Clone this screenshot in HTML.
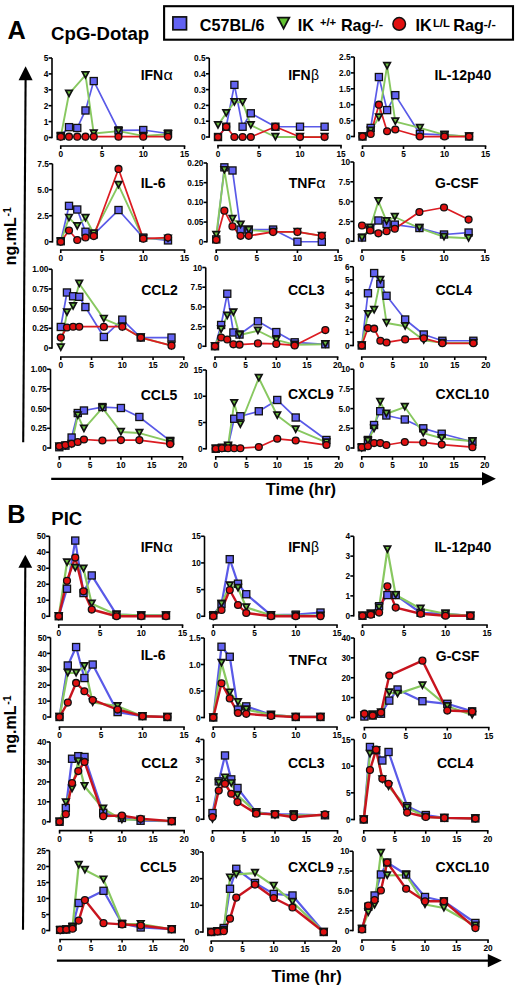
<!DOCTYPE html>
<html><head><meta charset="utf-8"><title>Figure</title>
<style>
html,body{margin:0;padding:0;background:#fff;}
body{width:520px;height:990px;overflow:hidden;}
svg{display:block;}
text{font-family:"Liberation Sans",sans-serif;font-weight:bold;fill:#000;}
.tk{font-size:8.3px;}
.ti{font-size:14px;}
.tg{font-size:14px;font-weight:normal;}
.pl{font-size:25.3px;}
.pt{font-size:18.6px;}
.lg{font-size:16.2px;}
.ls{font-size:10.5px;}
.ls2{font-size:11.3px;}
.yl{font-size:16px;}
.sup{font-size:10.5px;}
.tt{font-size:16.5px;}
</style></head>
<body><svg width="520" height="990" viewBox="0 0 520 990">
<rect width="520" height="990" fill="#fff"/>
<text class="pl" x="7.5" y="39.3">A</text>
<text class="pt" x="51.1" y="39.6">CpG-Dotap</text>
<text class="pl" x="7.3" y="523">B</text>
<text class="pt" x="51.3" y="525.2">PIC</text>
<rect x="164.1" y="6.2" width="348.9" height="33.5" fill="#fff" stroke="#000" stroke-width="2.1"/>
<rect x="172.9" y="16.9" width="13.6" height="12.9" fill="#6262f2" stroke="#111" stroke-width="1.7"/>
<text class="lg" x="199.8" y="31.1">C57BL/6</text>
<path d="M277.9 17.6L289.3 17.6L283.6 28.6Z" fill="#62c232" stroke="#111" stroke-width="1.8" stroke-linejoin="miter"/>
<text class="lg" x="297.8" y="31.1">IK</text>
<text class="ls" x="319.9" y="26.3" textLength="16.3" lengthAdjust="spacingAndGlyphs">+/+</text>
<text class="lg" x="340.9" y="31.1">Rag</text>
<text class="ls" x="370.8" y="27.6" textLength="12.4" lengthAdjust="spacingAndGlyphs">-/-</text>
<circle cx="399.2" cy="23.9" r="6.3" fill="#e01010" stroke="#111" stroke-width="1.5"/>
<text class="lg" x="415.5" y="31.1">IK</text>
<text class="ls2" x="432.9" y="26.6">L/L</text>
<text class="lg" x="453.2" y="31.3">Rag</text>
<text class="ls" x="483.4" y="27.8" textLength="12.4" lengthAdjust="spacingAndGlyphs">-/-</text>
<path d="M25.60 79.20L23.20 442.30" stroke="#000" stroke-width="2.1" fill="none"/><path d="M25.60 66.30L32.65 80.20L18.55 80.20Z" fill="#000"/>
<text class="yl" transform="translate(16.40 265.20) rotate(-90)">ng.mL<tspan class="sup" dx="0.8" dy="-5.6">-1</tspan></text>
<path d="M25.30 566.80L23.00 929.70" stroke="#000" stroke-width="2.1" fill="none"/><path d="M25.30 554.70L32.20 567.80L18.40 567.80Z" fill="#000"/>
<text class="yl" transform="translate(16.20 753.50) rotate(-90)">ng.mL<tspan class="sup" dx="0.8" dy="-5.6">-1</tspan></text>
<path d="M51.20 478.80H483.00" stroke="#000" stroke-width="2.2" fill="none"/><path d="M495.90 478.80L482.00 472.10L482.00 485.50Z" fill="#000"/>
<text class="tt" x="265.8" y="495.4">Time (hr)</text>
<path d="M56.90 960.60H488.80" stroke="#000" stroke-width="2.2" fill="none"/><path d="M501.90 960.60L487.80 953.90L487.80 967.30Z" fill="#000"/>
<text class="tt" x="271.4" y="981.9">Time (hr)</text>
<g stroke="#000" stroke-width="1.6" fill="none"><path d="M52.00 58.00V138.30" /><path d="M48.60 137.50H52.00" /><path d="M48.60 121.60H52.00" /><path d="M48.60 105.70H52.00" /><path d="M48.60 89.80H52.00" /><path d="M48.60 73.90H52.00" /><path d="M48.60 58.00H52.00" /><path d="M59.95 146.00H185.30" /><path d="M60.75 146.00V149.00" /><path d="M102.00 146.00V149.00" /><path d="M143.25 146.00V149.00" /><path d="M184.50 146.00V149.00" /></g>
<g class="tk"><text x="48.40" y="140.60" text-anchor="end">0</text><text x="48.40" y="124.70" text-anchor="end">1</text><text x="48.40" y="108.80" text-anchor="end">2</text><text x="48.40" y="92.90" text-anchor="end">3</text><text x="48.40" y="77.00" text-anchor="end">4</text><text x="48.40" y="61.10" text-anchor="end">5</text><text x="60.75" y="157.20" text-anchor="middle">0</text><text x="102.00" y="157.20" text-anchor="middle">5</text><text x="143.25" y="157.20" text-anchor="middle">10</text><text x="184.50" y="157.20" text-anchor="middle">15</text></g>
<text class="ti" x="140.65" y="79.70">IFN</text>
<text class="tg" transform="translate(163.50 79.70) scale(1.15 1)">&#945;</text>
<path d="M60.75 135.91 L69.00 127.16 L77.25 127.96 L85.50 110.47 L93.75 81.06 L118.50 130.34 L143.25 130.03 L168.00 133.53" fill="none" stroke="#5a5ae8" stroke-width="1.7" stroke-linejoin="round"/>
<path d="M60.75 136.71 L69.00 93.78 L85.50 75.17 L93.75 133.53 L118.50 131.14 L143.25 135.91 L168.00 134.32" fill="none" stroke="#88c860" stroke-width="1.9" stroke-linejoin="round"/>
<path d="M60.75 136.71 L69.00 136.71 L77.25 136.71 L85.50 136.71 L93.75 136.71 L118.50 136.71 L143.25 136.71 L168.00 136.71" fill="none" stroke="#dc1c22" stroke-width="1.75" stroke-linejoin="round"/>
<rect x="57.20" y="132.36" width="7.10" height="7.10" fill="#6262f2" stroke="#111" stroke-width="1.3"/>
<rect x="65.45" y="123.61" width="7.10" height="7.10" fill="#6262f2" stroke="#111" stroke-width="1.3"/>
<rect x="73.70" y="124.41" width="7.10" height="7.10" fill="#6262f2" stroke="#111" stroke-width="1.3"/>
<rect x="81.95" y="106.92" width="7.10" height="7.10" fill="#6262f2" stroke="#111" stroke-width="1.3"/>
<rect x="90.20" y="77.51" width="7.10" height="7.10" fill="#6262f2" stroke="#111" stroke-width="1.3"/>
<rect x="114.95" y="126.80" width="7.10" height="7.10" fill="#6262f2" stroke="#111" stroke-width="1.3"/>
<rect x="139.70" y="126.48" width="7.10" height="7.10" fill="#6262f2" stroke="#111" stroke-width="1.3"/>
<rect x="164.45" y="129.98" width="7.10" height="7.10" fill="#6262f2" stroke="#111" stroke-width="1.3"/>
<path d="M57.49 133.36L64.01 133.36L60.75 139.41Z" fill="#6cbf42" stroke="#111" stroke-width="1.7" stroke-linejoin="miter"/>
<path d="M65.74 90.43L72.26 90.43L69.00 96.48Z" fill="#6cbf42" stroke="#111" stroke-width="1.7" stroke-linejoin="miter"/>
<path d="M82.24 71.82L88.76 71.82L85.50 77.87Z" fill="#6cbf42" stroke="#111" stroke-width="1.7" stroke-linejoin="miter"/>
<path d="M90.49 130.18L97.01 130.18L93.75 136.22Z" fill="#6cbf42" stroke="#111" stroke-width="1.7" stroke-linejoin="miter"/>
<path d="M115.24 127.79L121.76 127.79L118.50 133.84Z" fill="#6cbf42" stroke="#111" stroke-width="1.7" stroke-linejoin="miter"/>
<path d="M139.99 132.56L146.51 132.56L143.25 138.61Z" fill="#6cbf42" stroke="#111" stroke-width="1.7" stroke-linejoin="miter"/>
<path d="M164.74 130.97L171.26 130.97L168.00 137.02Z" fill="#6cbf42" stroke="#111" stroke-width="1.7" stroke-linejoin="miter"/>
<circle cx="60.75" cy="136.71" r="3.45" fill="#e01010" stroke="#111" stroke-width="1.3"/>
<circle cx="69.00" cy="136.71" r="3.45" fill="#e01010" stroke="#111" stroke-width="1.3"/>
<circle cx="77.25" cy="136.71" r="3.45" fill="#e01010" stroke="#111" stroke-width="1.3"/>
<circle cx="85.50" cy="136.71" r="3.45" fill="#e01010" stroke="#111" stroke-width="1.3"/>
<circle cx="93.75" cy="136.71" r="3.45" fill="#e01010" stroke="#111" stroke-width="1.3"/>
<circle cx="118.50" cy="136.71" r="3.45" fill="#e01010" stroke="#111" stroke-width="1.3"/>
<circle cx="143.25" cy="136.71" r="3.45" fill="#e01010" stroke="#111" stroke-width="1.3"/>
<circle cx="168.00" cy="136.71" r="3.45" fill="#e01010" stroke="#111" stroke-width="1.3"/>
<g stroke="#000" stroke-width="1.6" fill="none"><path d="M209.25 58.00V137.80" /><path d="M205.85 137.00H209.25" /><path d="M205.85 121.20H209.25" /><path d="M205.85 105.40H209.25" /><path d="M205.85 89.60H209.25" /><path d="M205.85 73.80H209.25" /><path d="M205.85 58.00H209.25" /><path d="M217.20 145.60H341.80" /><path d="M218.00 145.60V148.60" /><path d="M259.00 145.60V148.60" /><path d="M300.00 145.60V148.60" /><path d="M341.00 145.60V148.60" /></g>
<g class="tk"><text x="205.65" y="140.10" text-anchor="end">0</text><text x="205.65" y="124.30" text-anchor="end">0.1</text><text x="205.65" y="108.50" text-anchor="end">0.2</text><text x="205.65" y="92.70" text-anchor="end">0.3</text><text x="205.65" y="76.90" text-anchor="end">0.4</text><text x="205.65" y="61.10" text-anchor="end">0.5</text><text x="218.00" y="156.80" text-anchor="middle">0</text><text x="259.00" y="156.80" text-anchor="middle">5</text><text x="300.00" y="156.80" text-anchor="middle">10</text><text x="341.00" y="156.80" text-anchor="middle">15</text></g>
<text class="ti" x="288.15" y="79.70">IFN</text>
<text class="tg" x="311.00" y="79.70">&#946;</text>
<path d="M218.00 137.00 L226.20 126.73 L234.40 84.86 L242.60 126.73 L250.80 113.30 L275.40 126.73 L300.00 126.73 L324.60 126.73" fill="none" stroke="#5a5ae8" stroke-width="1.7" stroke-linejoin="round"/>
<path d="M218.00 125.15 L226.20 113.30 L234.40 102.24 L242.60 102.24 L250.80 125.15 L275.40 137.00 L300.00 137.00 L324.60 137.00" fill="none" stroke="#88c860" stroke-width="1.9" stroke-linejoin="round"/>
<path d="M218.00 137.00 L226.20 126.73 L234.40 137.00 L242.60 137.00 L250.80 137.00 L275.40 126.73 L300.00 137.00 L324.60 137.00" fill="none" stroke="#dc1c22" stroke-width="1.75" stroke-linejoin="round"/>
<rect x="214.45" y="133.45" width="7.10" height="7.10" fill="#6262f2" stroke="#111" stroke-width="1.3"/>
<rect x="222.65" y="123.18" width="7.10" height="7.10" fill="#6262f2" stroke="#111" stroke-width="1.3"/>
<rect x="230.85" y="81.31" width="7.10" height="7.10" fill="#6262f2" stroke="#111" stroke-width="1.3"/>
<rect x="239.05" y="123.18" width="7.10" height="7.10" fill="#6262f2" stroke="#111" stroke-width="1.3"/>
<rect x="247.25" y="109.75" width="7.10" height="7.10" fill="#6262f2" stroke="#111" stroke-width="1.3"/>
<rect x="271.85" y="123.18" width="7.10" height="7.10" fill="#6262f2" stroke="#111" stroke-width="1.3"/>
<rect x="296.45" y="123.18" width="7.10" height="7.10" fill="#6262f2" stroke="#111" stroke-width="1.3"/>
<rect x="321.05" y="123.18" width="7.10" height="7.10" fill="#6262f2" stroke="#111" stroke-width="1.3"/>
<path d="M214.74 121.80L221.26 121.80L218.00 127.85Z" fill="#6cbf42" stroke="#111" stroke-width="1.7" stroke-linejoin="miter"/>
<path d="M222.94 109.95L229.46 109.95L226.20 116.00Z" fill="#6cbf42" stroke="#111" stroke-width="1.7" stroke-linejoin="miter"/>
<path d="M231.14 98.89L237.66 98.89L234.40 104.94Z" fill="#6cbf42" stroke="#111" stroke-width="1.7" stroke-linejoin="miter"/>
<path d="M239.34 98.89L245.86 98.89L242.60 104.94Z" fill="#6cbf42" stroke="#111" stroke-width="1.7" stroke-linejoin="miter"/>
<path d="M247.54 121.80L254.06 121.80L250.80 127.85Z" fill="#6cbf42" stroke="#111" stroke-width="1.7" stroke-linejoin="miter"/>
<path d="M272.14 133.65L278.66 133.65L275.40 139.70Z" fill="#6cbf42" stroke="#111" stroke-width="1.7" stroke-linejoin="miter"/>
<path d="M296.74 133.65L303.26 133.65L300.00 139.70Z" fill="#6cbf42" stroke="#111" stroke-width="1.7" stroke-linejoin="miter"/>
<path d="M321.34 133.65L327.86 133.65L324.60 139.70Z" fill="#6cbf42" stroke="#111" stroke-width="1.7" stroke-linejoin="miter"/>
<circle cx="218.00" cy="137.00" r="3.45" fill="#e01010" stroke="#111" stroke-width="1.3"/>
<circle cx="226.20" cy="126.73" r="3.45" fill="#e01010" stroke="#111" stroke-width="1.3"/>
<circle cx="234.40" cy="137.00" r="3.45" fill="#e01010" stroke="#111" stroke-width="1.3"/>
<circle cx="242.60" cy="137.00" r="3.45" fill="#e01010" stroke="#111" stroke-width="1.3"/>
<circle cx="250.80" cy="137.00" r="3.45" fill="#e01010" stroke="#111" stroke-width="1.3"/>
<circle cx="275.40" cy="126.73" r="3.45" fill="#e01010" stroke="#111" stroke-width="1.3"/>
<circle cx="300.00" cy="137.00" r="3.45" fill="#e01010" stroke="#111" stroke-width="1.3"/>
<circle cx="324.60" cy="137.00" r="3.45" fill="#e01010" stroke="#111" stroke-width="1.3"/>
<g stroke="#000" stroke-width="1.6" fill="none"><path d="M354.25 57.00V137.30" /><path d="M350.85 136.50H354.25" /><path d="M350.85 120.60H354.25" /><path d="M350.85 104.70H354.25" /><path d="M350.85 88.80H354.25" /><path d="M350.85 72.90H354.25" /><path d="M350.85 57.00H354.25" /><path d="M361.70 146.00H486.30" /><path d="M362.50 146.00V149.00" /><path d="M403.50 146.00V149.00" /><path d="M444.50 146.00V149.00" /><path d="M485.50 146.00V149.00" /></g>
<g class="tk"><text x="350.65" y="139.60" text-anchor="end">0</text><text x="350.65" y="123.70" text-anchor="end">0.5</text><text x="350.65" y="107.80" text-anchor="end">1.0</text><text x="350.65" y="91.90" text-anchor="end">1.5</text><text x="350.65" y="76.00" text-anchor="end">2.0</text><text x="350.65" y="60.10" text-anchor="end">2.5</text><text x="362.50" y="157.20" text-anchor="middle">0</text><text x="403.50" y="157.20" text-anchor="middle">5</text><text x="444.50" y="157.20" text-anchor="middle">10</text><text x="485.50" y="157.20" text-anchor="middle">15</text></g>
<text class="ti" x="434.40" y="79.70">IL-12p40</text>
<path d="M362.50 136.50 L370.70 127.91 L378.90 77.03 L387.10 110.11 L395.30 95.16 L419.90 133.96 L444.50 134.91 L469.10 136.50" fill="none" stroke="#5a5ae8" stroke-width="1.7" stroke-linejoin="round"/>
<path d="M362.50 136.50 L370.70 130.78 L378.90 117.42 L387.10 65.90 L395.30 121.55 L419.90 127.91 L444.50 134.91 L469.10 136.50" fill="none" stroke="#88c860" stroke-width="1.9" stroke-linejoin="round"/>
<path d="M362.50 136.50 L370.70 133.96 L378.90 104.70 L387.10 131.25 L395.30 129.50 L419.90 136.50 L444.50 136.50 L469.10 136.50" fill="none" stroke="#dc1c22" stroke-width="1.75" stroke-linejoin="round"/>
<rect x="358.95" y="132.95" width="7.10" height="7.10" fill="#6262f2" stroke="#111" stroke-width="1.3"/>
<rect x="367.15" y="124.36" width="7.10" height="7.10" fill="#6262f2" stroke="#111" stroke-width="1.3"/>
<rect x="375.35" y="73.48" width="7.10" height="7.10" fill="#6262f2" stroke="#111" stroke-width="1.3"/>
<rect x="383.55" y="106.56" width="7.10" height="7.10" fill="#6262f2" stroke="#111" stroke-width="1.3"/>
<rect x="391.75" y="91.61" width="7.10" height="7.10" fill="#6262f2" stroke="#111" stroke-width="1.3"/>
<rect x="416.35" y="130.41" width="7.10" height="7.10" fill="#6262f2" stroke="#111" stroke-width="1.3"/>
<rect x="440.95" y="131.36" width="7.10" height="7.10" fill="#6262f2" stroke="#111" stroke-width="1.3"/>
<rect x="465.55" y="132.95" width="7.10" height="7.10" fill="#6262f2" stroke="#111" stroke-width="1.3"/>
<path d="M359.24 133.15L365.76 133.15L362.50 139.20Z" fill="#6cbf42" stroke="#111" stroke-width="1.7" stroke-linejoin="miter"/>
<path d="M367.44 127.43L373.96 127.43L370.70 133.48Z" fill="#6cbf42" stroke="#111" stroke-width="1.7" stroke-linejoin="miter"/>
<path d="M375.64 114.07L382.16 114.07L378.90 120.12Z" fill="#6cbf42" stroke="#111" stroke-width="1.7" stroke-linejoin="miter"/>
<path d="M383.84 62.55L390.36 62.55L387.10 68.60Z" fill="#6cbf42" stroke="#111" stroke-width="1.7" stroke-linejoin="miter"/>
<path d="M392.04 118.20L398.56 118.20L395.30 124.25Z" fill="#6cbf42" stroke="#111" stroke-width="1.7" stroke-linejoin="miter"/>
<path d="M416.64 124.56L423.16 124.56L419.90 130.61Z" fill="#6cbf42" stroke="#111" stroke-width="1.7" stroke-linejoin="miter"/>
<path d="M441.24 131.56L447.76 131.56L444.50 137.61Z" fill="#6cbf42" stroke="#111" stroke-width="1.7" stroke-linejoin="miter"/>
<path d="M465.84 133.15L472.36 133.15L469.10 139.20Z" fill="#6cbf42" stroke="#111" stroke-width="1.7" stroke-linejoin="miter"/>
<circle cx="362.50" cy="136.50" r="3.45" fill="#e01010" stroke="#111" stroke-width="1.3"/>
<circle cx="370.70" cy="133.96" r="3.45" fill="#e01010" stroke="#111" stroke-width="1.3"/>
<circle cx="378.90" cy="104.70" r="3.45" fill="#e01010" stroke="#111" stroke-width="1.3"/>
<circle cx="387.10" cy="131.25" r="3.45" fill="#e01010" stroke="#111" stroke-width="1.3"/>
<circle cx="395.30" cy="129.50" r="3.45" fill="#e01010" stroke="#111" stroke-width="1.3"/>
<circle cx="419.90" cy="136.50" r="3.45" fill="#e01010" stroke="#111" stroke-width="1.3"/>
<circle cx="444.50" cy="136.50" r="3.45" fill="#e01010" stroke="#111" stroke-width="1.3"/>
<circle cx="469.10" cy="136.50" r="3.45" fill="#e01010" stroke="#111" stroke-width="1.3"/>
<g stroke="#000" stroke-width="1.6" fill="none"><path d="M52.50 163.75V242.55" /><path d="M49.10 241.75H52.50" /><path d="M49.10 215.75H52.50" /><path d="M49.10 189.75H52.50" /><path d="M49.10 163.75H52.50" /><path d="M59.95 250.00H185.30" /><path d="M60.75 250.00V253.00" /><path d="M102.00 250.00V253.00" /><path d="M143.25 250.00V253.00" /><path d="M184.50 250.00V253.00" /></g>
<g class="tk"><text x="48.90" y="244.85" text-anchor="end">0</text><text x="48.90" y="218.85" text-anchor="end">2.5</text><text x="48.90" y="192.85" text-anchor="end">5.0</text><text x="48.90" y="166.85" text-anchor="end">7.5</text><text x="60.75" y="261.20" text-anchor="middle">0</text><text x="102.00" y="261.20" text-anchor="middle">5</text><text x="143.25" y="261.20" text-anchor="middle">10</text><text x="184.50" y="261.20" text-anchor="middle">15</text></g>
<text class="ti" x="140.65" y="187.70">IL-6</text>
<path d="M60.75 241.23 L69.00 205.87 L77.25 209.51 L85.50 231.77 L93.75 234.47 L118.50 210.03 L143.25 237.59 L168.00 240.40" fill="none" stroke="#5a5ae8" stroke-width="1.7" stroke-linejoin="round"/>
<path d="M60.75 241.75 L69.00 217.83 L77.25 226.15 L85.50 218.04 L93.75 233.43 L118.50 185.07 L143.25 238.63 L168.00 238.63" fill="none" stroke="#88c860" stroke-width="1.9" stroke-linejoin="round"/>
<path d="M60.75 241.75 L69.00 230.52 L77.25 239.98 L85.50 237.49 L93.75 236.03 L118.50 168.95 L143.25 238.63 L168.00 237.59" fill="none" stroke="#dc1c22" stroke-width="1.75" stroke-linejoin="round"/>
<rect x="57.20" y="237.68" width="7.10" height="7.10" fill="#6262f2" stroke="#111" stroke-width="1.3"/>
<rect x="65.45" y="202.32" width="7.10" height="7.10" fill="#6262f2" stroke="#111" stroke-width="1.3"/>
<rect x="73.70" y="205.96" width="7.10" height="7.10" fill="#6262f2" stroke="#111" stroke-width="1.3"/>
<rect x="81.95" y="228.22" width="7.10" height="7.10" fill="#6262f2" stroke="#111" stroke-width="1.3"/>
<rect x="90.20" y="230.92" width="7.10" height="7.10" fill="#6262f2" stroke="#111" stroke-width="1.3"/>
<rect x="114.95" y="206.48" width="7.10" height="7.10" fill="#6262f2" stroke="#111" stroke-width="1.3"/>
<rect x="139.70" y="234.04" width="7.10" height="7.10" fill="#6262f2" stroke="#111" stroke-width="1.3"/>
<rect x="164.45" y="236.85" width="7.10" height="7.10" fill="#6262f2" stroke="#111" stroke-width="1.3"/>
<path d="M57.49 238.40L64.01 238.40L60.75 244.45Z" fill="#6cbf42" stroke="#111" stroke-width="1.7" stroke-linejoin="miter"/>
<path d="M65.74 214.48L72.26 214.48L69.00 220.53Z" fill="#6cbf42" stroke="#111" stroke-width="1.7" stroke-linejoin="miter"/>
<path d="M73.99 222.80L80.51 222.80L77.25 228.85Z" fill="#6cbf42" stroke="#111" stroke-width="1.7" stroke-linejoin="miter"/>
<path d="M82.24 214.69L88.76 214.69L85.50 220.74Z" fill="#6cbf42" stroke="#111" stroke-width="1.7" stroke-linejoin="miter"/>
<path d="M90.49 230.08L97.01 230.08L93.75 236.13Z" fill="#6cbf42" stroke="#111" stroke-width="1.7" stroke-linejoin="miter"/>
<path d="M115.24 181.72L121.76 181.72L118.50 187.77Z" fill="#6cbf42" stroke="#111" stroke-width="1.7" stroke-linejoin="miter"/>
<path d="M139.99 235.28L146.51 235.28L143.25 241.33Z" fill="#6cbf42" stroke="#111" stroke-width="1.7" stroke-linejoin="miter"/>
<path d="M164.74 235.28L171.26 235.28L168.00 241.33Z" fill="#6cbf42" stroke="#111" stroke-width="1.7" stroke-linejoin="miter"/>
<circle cx="60.75" cy="241.75" r="3.45" fill="#e01010" stroke="#111" stroke-width="1.3"/>
<circle cx="69.00" cy="230.52" r="3.45" fill="#e01010" stroke="#111" stroke-width="1.3"/>
<circle cx="77.25" cy="239.98" r="3.45" fill="#e01010" stroke="#111" stroke-width="1.3"/>
<circle cx="85.50" cy="237.49" r="3.45" fill="#e01010" stroke="#111" stroke-width="1.3"/>
<circle cx="93.75" cy="236.03" r="3.45" fill="#e01010" stroke="#111" stroke-width="1.3"/>
<circle cx="118.50" cy="168.95" r="3.45" fill="#e01010" stroke="#111" stroke-width="1.3"/>
<circle cx="143.25" cy="238.63" r="3.45" fill="#e01010" stroke="#111" stroke-width="1.3"/>
<circle cx="168.00" cy="237.59" r="3.45" fill="#e01010" stroke="#111" stroke-width="1.3"/>
<g stroke="#000" stroke-width="1.6" fill="none"><path d="M207.00 163.00V242.55" /><path d="M203.60 241.75H207.00" /><path d="M203.60 222.06H207.00" /><path d="M203.60 202.38H207.00" /><path d="M203.60 182.69H207.00" /><path d="M203.60 163.00H207.00" /><path d="M215.45 250.00H338.85" /><path d="M216.25 250.00V253.00" /><path d="M256.85 250.00V253.00" /><path d="M297.45 250.00V253.00" /><path d="M338.05 250.00V253.00" /></g>
<g class="tk"><text x="203.40" y="244.85" text-anchor="end">0</text><text x="203.40" y="225.16" text-anchor="end">0.05</text><text x="203.40" y="205.47" text-anchor="end">0.10</text><text x="203.40" y="185.79" text-anchor="end">0.15</text><text x="203.40" y="166.10" text-anchor="end">0.20</text><text x="216.25" y="261.20" text-anchor="middle">0</text><text x="256.85" y="261.20" text-anchor="middle">5</text><text x="297.45" y="261.20" text-anchor="middle">10</text><text x="338.05" y="261.20" text-anchor="middle">15</text></g>
<text class="ti" x="288.75" y="187.70">TNF</text>
<text class="tg" transform="translate(316.26 187.70) scale(1.15 1)">&#945;</text>
<path d="M216.25 239.39 L224.37 167.33 L232.49 170.48 L240.61 229.54 L248.73 229.54 L273.09 229.54 L297.45 241.75 L321.81 241.75" fill="none" stroke="#5a5ae8" stroke-width="1.7" stroke-linejoin="round"/>
<path d="M216.25 235.06 L224.37 170.09 L232.49 218.91 L240.61 224.82 L248.73 229.94 L273.09 231.91 L297.45 231.91 L321.81 235.84" fill="none" stroke="#88c860" stroke-width="1.9" stroke-linejoin="round"/>
<path d="M216.25 239.78 L224.37 210.64 L232.49 226.39 L240.61 235.84 L248.73 235.84 L273.09 231.91 L297.45 231.91 L321.81 235.84" fill="none" stroke="#dc1c22" stroke-width="1.75" stroke-linejoin="round"/>
<rect x="212.70" y="235.84" width="7.10" height="7.10" fill="#6262f2" stroke="#111" stroke-width="1.3"/>
<rect x="220.82" y="163.78" width="7.10" height="7.10" fill="#6262f2" stroke="#111" stroke-width="1.3"/>
<rect x="228.94" y="166.93" width="7.10" height="7.10" fill="#6262f2" stroke="#111" stroke-width="1.3"/>
<rect x="237.06" y="225.99" width="7.10" height="7.10" fill="#6262f2" stroke="#111" stroke-width="1.3"/>
<rect x="245.18" y="225.99" width="7.10" height="7.10" fill="#6262f2" stroke="#111" stroke-width="1.3"/>
<rect x="269.54" y="225.99" width="7.10" height="7.10" fill="#6262f2" stroke="#111" stroke-width="1.3"/>
<rect x="293.90" y="238.20" width="7.10" height="7.10" fill="#6262f2" stroke="#111" stroke-width="1.3"/>
<rect x="318.26" y="238.20" width="7.10" height="7.10" fill="#6262f2" stroke="#111" stroke-width="1.3"/>
<path d="M212.99 231.71L219.51 231.71L216.25 237.76Z" fill="#6cbf42" stroke="#111" stroke-width="1.7" stroke-linejoin="miter"/>
<path d="M221.11 166.74L227.63 166.74L224.37 172.79Z" fill="#6cbf42" stroke="#111" stroke-width="1.7" stroke-linejoin="miter"/>
<path d="M229.23 215.56L235.75 215.56L232.49 221.61Z" fill="#6cbf42" stroke="#111" stroke-width="1.7" stroke-linejoin="miter"/>
<path d="M237.35 221.47L243.87 221.47L240.61 227.52Z" fill="#6cbf42" stroke="#111" stroke-width="1.7" stroke-linejoin="miter"/>
<path d="M245.47 226.59L251.99 226.59L248.73 232.64Z" fill="#6cbf42" stroke="#111" stroke-width="1.7" stroke-linejoin="miter"/>
<path d="M269.83 228.56L276.35 228.56L273.09 234.61Z" fill="#6cbf42" stroke="#111" stroke-width="1.7" stroke-linejoin="miter"/>
<path d="M294.19 228.56L300.71 228.56L297.45 234.61Z" fill="#6cbf42" stroke="#111" stroke-width="1.7" stroke-linejoin="miter"/>
<path d="M318.55 232.49L325.07 232.49L321.81 238.54Z" fill="#6cbf42" stroke="#111" stroke-width="1.7" stroke-linejoin="miter"/>
<circle cx="216.25" cy="239.78" r="3.45" fill="#e01010" stroke="#111" stroke-width="1.3"/>
<circle cx="224.37" cy="210.64" r="3.45" fill="#e01010" stroke="#111" stroke-width="1.3"/>
<circle cx="232.49" cy="226.39" r="3.45" fill="#e01010" stroke="#111" stroke-width="1.3"/>
<circle cx="240.61" cy="235.84" r="3.45" fill="#e01010" stroke="#111" stroke-width="1.3"/>
<circle cx="248.73" cy="235.84" r="3.45" fill="#e01010" stroke="#111" stroke-width="1.3"/>
<circle cx="273.09" cy="231.91" r="3.45" fill="#e01010" stroke="#111" stroke-width="1.3"/>
<circle cx="297.45" cy="231.91" r="3.45" fill="#e01010" stroke="#111" stroke-width="1.3"/>
<circle cx="321.81" cy="235.84" r="3.45" fill="#e01010" stroke="#111" stroke-width="1.3"/>
<g stroke="#000" stroke-width="1.6" fill="none"><path d="M353.75 162.00V242.05" /><path d="M350.35 241.25H353.75" /><path d="M350.35 221.44H353.75" /><path d="M350.35 201.62H353.75" /><path d="M350.35 181.81H353.75" /><path d="M350.35 162.00H353.75" /><path d="M361.20 250.00H485.80" /><path d="M362.00 250.00V253.00" /><path d="M403.00 250.00V253.00" /><path d="M444.00 250.00V253.00" /><path d="M485.00 250.00V253.00" /></g>
<g class="tk"><text x="350.15" y="244.35" text-anchor="end">0</text><text x="350.15" y="224.54" text-anchor="end">2.5</text><text x="350.15" y="204.72" text-anchor="end">5.0</text><text x="350.15" y="184.91" text-anchor="end">7.5</text><text x="350.15" y="165.10" text-anchor="end">10</text><text x="362.00" y="261.20" text-anchor="middle">0</text><text x="403.00" y="261.20" text-anchor="middle">5</text><text x="444.00" y="261.20" text-anchor="middle">10</text><text x="485.00" y="261.20" text-anchor="middle">15</text></g>
<text class="ti" x="435.00" y="187.70">G-CSF</text>
<path d="M362.00 237.53 L370.20 229.52 L378.40 220.49 L386.60 224.05 L394.80 224.61 L419.40 228.02 L444.00 234.51 L468.60 232.53" fill="none" stroke="#5a5ae8" stroke-width="1.7" stroke-linejoin="round"/>
<path d="M362.00 238.08 L370.20 227.78 L378.40 201.23 L386.60 221.28 L394.80 217.00 L419.40 228.02 L444.00 236.97 L468.60 238.32" fill="none" stroke="#88c860" stroke-width="1.9" stroke-linejoin="round"/>
<path d="M362.00 225.48 L370.20 230.47 L378.40 233.32 L386.60 231.26 L394.80 228.73 L419.40 212.01 L444.00 207.49 L468.60 219.54" fill="none" stroke="#dc1c22" stroke-width="1.75" stroke-linejoin="round"/>
<rect x="358.45" y="233.98" width="7.10" height="7.10" fill="#6262f2" stroke="#111" stroke-width="1.3"/>
<rect x="366.65" y="225.97" width="7.10" height="7.10" fill="#6262f2" stroke="#111" stroke-width="1.3"/>
<rect x="374.85" y="216.94" width="7.10" height="7.10" fill="#6262f2" stroke="#111" stroke-width="1.3"/>
<rect x="383.05" y="220.50" width="7.10" height="7.10" fill="#6262f2" stroke="#111" stroke-width="1.3"/>
<rect x="391.25" y="221.06" width="7.10" height="7.10" fill="#6262f2" stroke="#111" stroke-width="1.3"/>
<rect x="415.85" y="224.47" width="7.10" height="7.10" fill="#6262f2" stroke="#111" stroke-width="1.3"/>
<rect x="440.45" y="230.96" width="7.10" height="7.10" fill="#6262f2" stroke="#111" stroke-width="1.3"/>
<rect x="465.05" y="228.98" width="7.10" height="7.10" fill="#6262f2" stroke="#111" stroke-width="1.3"/>
<path d="M358.74 234.73L365.26 234.73L362.00 240.78Z" fill="#6cbf42" stroke="#111" stroke-width="1.7" stroke-linejoin="miter"/>
<path d="M366.94 224.43L373.46 224.43L370.20 230.48Z" fill="#6cbf42" stroke="#111" stroke-width="1.7" stroke-linejoin="miter"/>
<path d="M375.14 197.88L381.66 197.88L378.40 203.93Z" fill="#6cbf42" stroke="#111" stroke-width="1.7" stroke-linejoin="miter"/>
<path d="M383.34 217.93L389.86 217.93L386.60 223.98Z" fill="#6cbf42" stroke="#111" stroke-width="1.7" stroke-linejoin="miter"/>
<path d="M391.54 213.65L398.06 213.65L394.80 219.70Z" fill="#6cbf42" stroke="#111" stroke-width="1.7" stroke-linejoin="miter"/>
<path d="M416.14 224.67L422.66 224.67L419.40 230.72Z" fill="#6cbf42" stroke="#111" stroke-width="1.7" stroke-linejoin="miter"/>
<path d="M440.74 233.62L447.26 233.62L444.00 239.67Z" fill="#6cbf42" stroke="#111" stroke-width="1.7" stroke-linejoin="miter"/>
<path d="M465.34 234.97L471.86 234.97L468.60 241.02Z" fill="#6cbf42" stroke="#111" stroke-width="1.7" stroke-linejoin="miter"/>
<circle cx="362.00" cy="225.48" r="3.45" fill="#e01010" stroke="#111" stroke-width="1.3"/>
<circle cx="370.20" cy="230.47" r="3.45" fill="#e01010" stroke="#111" stroke-width="1.3"/>
<circle cx="378.40" cy="233.32" r="3.45" fill="#e01010" stroke="#111" stroke-width="1.3"/>
<circle cx="386.60" cy="231.26" r="3.45" fill="#e01010" stroke="#111" stroke-width="1.3"/>
<circle cx="394.80" cy="228.73" r="3.45" fill="#e01010" stroke="#111" stroke-width="1.3"/>
<circle cx="419.40" cy="212.01" r="3.45" fill="#e01010" stroke="#111" stroke-width="1.3"/>
<circle cx="444.00" cy="207.49" r="3.45" fill="#e01010" stroke="#111" stroke-width="1.3"/>
<circle cx="468.60" cy="219.54" r="3.45" fill="#e01010" stroke="#111" stroke-width="1.3"/>
<g stroke="#000" stroke-width="1.6" fill="none"><path d="M52.00 269.25V348.80" /><path d="M48.60 348.00H52.00" /><path d="M48.60 328.31H52.00" /><path d="M48.60 308.62H52.00" /><path d="M48.60 288.94H52.00" /><path d="M48.60 269.25H52.00" /><path d="M60.00 357.00H184.60" /><path d="M60.80 357.00V360.00" /><path d="M91.55 357.00V360.00" /><path d="M122.30 357.00V360.00" /><path d="M153.05 357.00V360.00" /><path d="M183.80 357.00V360.00" /></g>
<g class="tk"><text x="48.40" y="351.10" text-anchor="end">0</text><text x="48.40" y="331.41" text-anchor="end">0.25</text><text x="48.40" y="311.73" text-anchor="end">0.50</text><text x="48.40" y="292.04" text-anchor="end">0.75</text><text x="48.40" y="272.35" text-anchor="end">1.00</text><text x="60.80" y="368.20" text-anchor="middle">0</text><text x="91.55" y="368.20" text-anchor="middle">5</text><text x="122.30" y="368.20" text-anchor="middle">10</text><text x="153.05" y="368.20" text-anchor="middle">15</text><text x="183.80" y="368.20" text-anchor="middle">20</text></g>
<text class="ti" x="141.25" y="294.70">CCL2</text>
<path d="M60.80 326.97 L66.95 292.48 L73.10 296.26 L79.25 296.81 L85.40 307.05 L103.85 336.98 L122.30 319.65 L140.75 337.53 L171.50 337.53" fill="none" stroke="#5a5ae8" stroke-width="1.7" stroke-linejoin="round"/>
<path d="M60.80 347.53 L66.95 312.56 L73.10 306.26 L79.25 283.74 L103.85 318.86 L122.30 326.74 L140.75 337.53 L171.50 345.64" fill="none" stroke="#88c860" stroke-width="1.9" stroke-linejoin="round"/>
<path d="M60.80 337.53 L66.95 327.52 L73.10 326.74 L79.25 326.74 L103.85 326.74 L122.30 326.74 L140.75 337.53 L171.50 345.64" fill="none" stroke="#dc1c22" stroke-width="1.75" stroke-linejoin="round"/>
<rect x="57.25" y="323.42" width="7.10" height="7.10" fill="#6262f2" stroke="#111" stroke-width="1.3"/>
<rect x="63.40" y="288.93" width="7.10" height="7.10" fill="#6262f2" stroke="#111" stroke-width="1.3"/>
<rect x="69.55" y="292.71" width="7.10" height="7.10" fill="#6262f2" stroke="#111" stroke-width="1.3"/>
<rect x="75.70" y="293.26" width="7.10" height="7.10" fill="#6262f2" stroke="#111" stroke-width="1.3"/>
<rect x="81.85" y="303.50" width="7.10" height="7.10" fill="#6262f2" stroke="#111" stroke-width="1.3"/>
<rect x="100.30" y="333.43" width="7.10" height="7.10" fill="#6262f2" stroke="#111" stroke-width="1.3"/>
<rect x="118.75" y="316.10" width="7.10" height="7.10" fill="#6262f2" stroke="#111" stroke-width="1.3"/>
<rect x="137.20" y="333.98" width="7.10" height="7.10" fill="#6262f2" stroke="#111" stroke-width="1.3"/>
<rect x="167.95" y="333.98" width="7.10" height="7.10" fill="#6262f2" stroke="#111" stroke-width="1.3"/>
<path d="M57.54 344.18L64.06 344.18L60.80 350.23Z" fill="#6cbf42" stroke="#111" stroke-width="1.7" stroke-linejoin="miter"/>
<path d="M63.69 309.21L70.21 309.21L66.95 315.26Z" fill="#6cbf42" stroke="#111" stroke-width="1.7" stroke-linejoin="miter"/>
<path d="M69.84 302.91L76.36 302.91L73.10 308.96Z" fill="#6cbf42" stroke="#111" stroke-width="1.7" stroke-linejoin="miter"/>
<path d="M75.99 280.39L82.51 280.39L79.25 286.44Z" fill="#6cbf42" stroke="#111" stroke-width="1.7" stroke-linejoin="miter"/>
<path d="M100.59 315.51L107.11 315.51L103.85 321.56Z" fill="#6cbf42" stroke="#111" stroke-width="1.7" stroke-linejoin="miter"/>
<path d="M119.04 323.39L125.56 323.39L122.30 329.44Z" fill="#6cbf42" stroke="#111" stroke-width="1.7" stroke-linejoin="miter"/>
<path d="M137.49 334.18L144.01 334.18L140.75 340.23Z" fill="#6cbf42" stroke="#111" stroke-width="1.7" stroke-linejoin="miter"/>
<path d="M168.24 342.29L174.76 342.29L171.50 348.34Z" fill="#6cbf42" stroke="#111" stroke-width="1.7" stroke-linejoin="miter"/>
<circle cx="60.80" cy="337.53" r="3.45" fill="#e01010" stroke="#111" stroke-width="1.3"/>
<circle cx="66.95" cy="327.52" r="3.45" fill="#e01010" stroke="#111" stroke-width="1.3"/>
<circle cx="73.10" cy="326.74" r="3.45" fill="#e01010" stroke="#111" stroke-width="1.3"/>
<circle cx="79.25" cy="326.74" r="3.45" fill="#e01010" stroke="#111" stroke-width="1.3"/>
<circle cx="103.85" cy="326.74" r="3.45" fill="#e01010" stroke="#111" stroke-width="1.3"/>
<circle cx="122.30" cy="326.74" r="3.45" fill="#e01010" stroke="#111" stroke-width="1.3"/>
<circle cx="140.75" cy="337.53" r="3.45" fill="#e01010" stroke="#111" stroke-width="1.3"/>
<circle cx="171.50" cy="345.64" r="3.45" fill="#e01010" stroke="#111" stroke-width="1.3"/>
<g stroke="#000" stroke-width="1.6" fill="none"><path d="M205.75 267.50V347.05" /><path d="M202.35 346.25H205.75" /><path d="M202.35 326.56H205.75" /><path d="M202.35 306.88H205.75" /><path d="M202.35 287.19H205.75" /><path d="M202.35 267.50H205.75" /><path d="M214.20 357.00H338.40" /><path d="M215.00 357.00V360.00" /><path d="M245.65 357.00V360.00" /><path d="M276.30 357.00V360.00" /><path d="M306.95 357.00V360.00" /><path d="M337.60 357.00V360.00" /></g>
<g class="tk"><text x="202.15" y="349.35" text-anchor="end">0</text><text x="202.15" y="329.66" text-anchor="end">2.5</text><text x="202.15" y="309.98" text-anchor="end">5.0</text><text x="202.15" y="290.29" text-anchor="end">7.5</text><text x="202.15" y="270.60" text-anchor="end">10</text><text x="215.00" y="368.20" text-anchor="middle">0</text><text x="245.65" y="368.20" text-anchor="middle">5</text><text x="276.30" y="368.20" text-anchor="middle">10</text><text x="306.95" y="368.20" text-anchor="middle">15</text><text x="337.60" y="368.20" text-anchor="middle">20</text></g>
<text class="ti" x="288.00" y="294.70">CCL3</text>
<path d="M215.00 346.25 L221.13 324.99 L227.26 293.72 L233.39 332.47 L239.52 334.52 L257.91 321.29 L276.30 332.07 L294.69 342.31 L325.34 344.28" fill="none" stroke="#5a5ae8" stroke-width="1.7" stroke-linejoin="round"/>
<path d="M215.00 346.25 L221.13 329.48 L227.26 315.77 L233.39 312.47 L239.52 334.99 L257.91 330.74 L276.30 339.95 L294.69 344.68 L325.34 344.28" fill="none" stroke="#88c860" stroke-width="1.9" stroke-linejoin="round"/>
<path d="M215.00 346.25 L221.13 337.51 L227.26 339.48 L233.39 344.28 L239.52 344.68 L257.91 343.42 L276.30 343.89 L294.69 345.46 L325.34 330.03" fill="none" stroke="#dc1c22" stroke-width="1.75" stroke-linejoin="round"/>
<rect x="211.45" y="342.70" width="7.10" height="7.10" fill="#6262f2" stroke="#111" stroke-width="1.3"/>
<rect x="217.58" y="321.44" width="7.10" height="7.10" fill="#6262f2" stroke="#111" stroke-width="1.3"/>
<rect x="223.71" y="290.17" width="7.10" height="7.10" fill="#6262f2" stroke="#111" stroke-width="1.3"/>
<rect x="229.84" y="328.92" width="7.10" height="7.10" fill="#6262f2" stroke="#111" stroke-width="1.3"/>
<rect x="235.97" y="330.97" width="7.10" height="7.10" fill="#6262f2" stroke="#111" stroke-width="1.3"/>
<rect x="254.36" y="317.74" width="7.10" height="7.10" fill="#6262f2" stroke="#111" stroke-width="1.3"/>
<rect x="272.75" y="328.52" width="7.10" height="7.10" fill="#6262f2" stroke="#111" stroke-width="1.3"/>
<rect x="291.14" y="338.76" width="7.10" height="7.10" fill="#6262f2" stroke="#111" stroke-width="1.3"/>
<rect x="321.79" y="340.73" width="7.10" height="7.10" fill="#6262f2" stroke="#111" stroke-width="1.3"/>
<path d="M211.74 342.90L218.26 342.90L215.00 348.95Z" fill="#6cbf42" stroke="#111" stroke-width="1.7" stroke-linejoin="miter"/>
<path d="M217.87 326.13L224.39 326.13L221.13 332.18Z" fill="#6cbf42" stroke="#111" stroke-width="1.7" stroke-linejoin="miter"/>
<path d="M224.00 312.42L230.52 312.42L227.26 318.47Z" fill="#6cbf42" stroke="#111" stroke-width="1.7" stroke-linejoin="miter"/>
<path d="M230.13 309.12L236.65 309.12L233.39 315.17Z" fill="#6cbf42" stroke="#111" stroke-width="1.7" stroke-linejoin="miter"/>
<path d="M236.26 331.64L242.78 331.64L239.52 337.69Z" fill="#6cbf42" stroke="#111" stroke-width="1.7" stroke-linejoin="miter"/>
<path d="M254.65 327.39L261.17 327.39L257.91 333.44Z" fill="#6cbf42" stroke="#111" stroke-width="1.7" stroke-linejoin="miter"/>
<path d="M273.04 336.60L279.56 336.60L276.30 342.65Z" fill="#6cbf42" stroke="#111" stroke-width="1.7" stroke-linejoin="miter"/>
<path d="M291.43 341.32L297.95 341.32L294.69 347.38Z" fill="#6cbf42" stroke="#111" stroke-width="1.7" stroke-linejoin="miter"/>
<path d="M322.08 340.93L328.60 340.93L325.34 346.98Z" fill="#6cbf42" stroke="#111" stroke-width="1.7" stroke-linejoin="miter"/>
<circle cx="215.00" cy="346.25" r="3.45" fill="#e01010" stroke="#111" stroke-width="1.3"/>
<circle cx="221.13" cy="337.51" r="3.45" fill="#e01010" stroke="#111" stroke-width="1.3"/>
<circle cx="227.26" cy="339.48" r="3.45" fill="#e01010" stroke="#111" stroke-width="1.3"/>
<circle cx="233.39" cy="344.28" r="3.45" fill="#e01010" stroke="#111" stroke-width="1.3"/>
<circle cx="239.52" cy="344.68" r="3.45" fill="#e01010" stroke="#111" stroke-width="1.3"/>
<circle cx="257.91" cy="343.42" r="3.45" fill="#e01010" stroke="#111" stroke-width="1.3"/>
<circle cx="276.30" cy="343.89" r="3.45" fill="#e01010" stroke="#111" stroke-width="1.3"/>
<circle cx="294.69" cy="345.46" r="3.45" fill="#e01010" stroke="#111" stroke-width="1.3"/>
<circle cx="325.34" cy="330.03" r="3.45" fill="#e01010" stroke="#111" stroke-width="1.3"/>
<g stroke="#000" stroke-width="1.6" fill="none"><path d="M353.25 266.75V346.30" /><path d="M349.85 345.50H353.25" /><path d="M349.85 332.38H353.25" /><path d="M349.85 319.25H353.25" /><path d="M349.85 306.12H353.25" /><path d="M349.85 293.00H353.25" /><path d="M349.85 279.88H353.25" /><path d="M349.85 266.75H353.25" /><path d="M360.95 357.00H486.55" /><path d="M361.75 357.00V360.00" /><path d="M392.75 357.00V360.00" /><path d="M423.75 357.00V360.00" /><path d="M454.75 357.00V360.00" /><path d="M485.75 357.00V360.00" /></g>
<g class="tk"><text x="349.65" y="348.60" text-anchor="end">0</text><text x="349.65" y="335.48" text-anchor="end">1</text><text x="349.65" y="322.35" text-anchor="end">2</text><text x="349.65" y="309.23" text-anchor="end">3</text><text x="349.65" y="296.10" text-anchor="end">4</text><text x="349.65" y="282.98" text-anchor="end">5</text><text x="349.65" y="269.85" text-anchor="end">6</text><text x="361.75" y="368.20" text-anchor="middle">0</text><text x="392.75" y="368.20" text-anchor="middle">5</text><text x="423.75" y="368.20" text-anchor="middle">10</text><text x="454.75" y="368.20" text-anchor="middle">15</text><text x="485.75" y="368.20" text-anchor="middle">20</text></g>
<text class="ti" x="435.50" y="294.70">CCL4</text>
<path d="M361.75 345.50 L367.95 293.26 L374.15 273.05 L380.35 283.81 L386.55 295.76 L405.15 319.51 L423.75 334.48 L442.35 340.77 L473.35 340.77" fill="none" stroke="#5a5ae8" stroke-width="1.7" stroke-linejoin="round"/>
<path d="M361.75 345.50 L367.95 314.26 L374.15 310.06 L380.35 280.01 L386.55 323.06 L405.15 326.21 L423.75 340.25 L442.35 342.88 L473.35 342.88" fill="none" stroke="#88c860" stroke-width="1.9" stroke-linejoin="round"/>
<path d="M361.75 345.50 L367.95 328.04 L374.15 328.70 L380.35 340.77 L386.55 342.48 L405.15 339.46 L423.75 338.28 L442.35 343.27 L473.35 343.27" fill="none" stroke="#dc1c22" stroke-width="1.75" stroke-linejoin="round"/>
<rect x="358.20" y="341.95" width="7.10" height="7.10" fill="#6262f2" stroke="#111" stroke-width="1.3"/>
<rect x="364.40" y="289.71" width="7.10" height="7.10" fill="#6262f2" stroke="#111" stroke-width="1.3"/>
<rect x="370.60" y="269.50" width="7.10" height="7.10" fill="#6262f2" stroke="#111" stroke-width="1.3"/>
<rect x="376.80" y="280.26" width="7.10" height="7.10" fill="#6262f2" stroke="#111" stroke-width="1.3"/>
<rect x="383.00" y="292.21" width="7.10" height="7.10" fill="#6262f2" stroke="#111" stroke-width="1.3"/>
<rect x="401.60" y="315.96" width="7.10" height="7.10" fill="#6262f2" stroke="#111" stroke-width="1.3"/>
<rect x="420.20" y="330.93" width="7.10" height="7.10" fill="#6262f2" stroke="#111" stroke-width="1.3"/>
<rect x="438.80" y="337.22" width="7.10" height="7.10" fill="#6262f2" stroke="#111" stroke-width="1.3"/>
<rect x="469.80" y="337.22" width="7.10" height="7.10" fill="#6262f2" stroke="#111" stroke-width="1.3"/>
<path d="M358.49 342.15L365.01 342.15L361.75 348.20Z" fill="#6cbf42" stroke="#111" stroke-width="1.7" stroke-linejoin="miter"/>
<path d="M364.69 310.91L371.21 310.91L367.95 316.96Z" fill="#6cbf42" stroke="#111" stroke-width="1.7" stroke-linejoin="miter"/>
<path d="M370.89 306.71L377.41 306.71L374.15 312.76Z" fill="#6cbf42" stroke="#111" stroke-width="1.7" stroke-linejoin="miter"/>
<path d="M377.09 276.66L383.61 276.66L380.35 282.71Z" fill="#6cbf42" stroke="#111" stroke-width="1.7" stroke-linejoin="miter"/>
<path d="M383.29 319.71L389.81 319.71L386.55 325.76Z" fill="#6cbf42" stroke="#111" stroke-width="1.7" stroke-linejoin="miter"/>
<path d="M401.89 322.86L408.41 322.86L405.15 328.91Z" fill="#6cbf42" stroke="#111" stroke-width="1.7" stroke-linejoin="miter"/>
<path d="M420.49 336.90L427.01 336.90L423.75 342.95Z" fill="#6cbf42" stroke="#111" stroke-width="1.7" stroke-linejoin="miter"/>
<path d="M439.09 339.52L445.61 339.52L442.35 345.57Z" fill="#6cbf42" stroke="#111" stroke-width="1.7" stroke-linejoin="miter"/>
<path d="M470.09 339.52L476.61 339.52L473.35 345.57Z" fill="#6cbf42" stroke="#111" stroke-width="1.7" stroke-linejoin="miter"/>
<circle cx="361.75" cy="345.50" r="3.45" fill="#e01010" stroke="#111" stroke-width="1.3"/>
<circle cx="367.95" cy="328.04" r="3.45" fill="#e01010" stroke="#111" stroke-width="1.3"/>
<circle cx="374.15" cy="328.70" r="3.45" fill="#e01010" stroke="#111" stroke-width="1.3"/>
<circle cx="380.35" cy="340.77" r="3.45" fill="#e01010" stroke="#111" stroke-width="1.3"/>
<circle cx="386.55" cy="342.48" r="3.45" fill="#e01010" stroke="#111" stroke-width="1.3"/>
<circle cx="405.15" cy="339.46" r="3.45" fill="#e01010" stroke="#111" stroke-width="1.3"/>
<circle cx="423.75" cy="338.28" r="3.45" fill="#e01010" stroke="#111" stroke-width="1.3"/>
<circle cx="442.35" cy="343.27" r="3.45" fill="#e01010" stroke="#111" stroke-width="1.3"/>
<circle cx="473.35" cy="343.27" r="3.45" fill="#e01010" stroke="#111" stroke-width="1.3"/>
<g stroke="#000" stroke-width="1.6" fill="none"><path d="M50.50 369.25V448.80" /><path d="M47.10 448.00H50.50" /><path d="M47.10 428.31H50.50" /><path d="M47.10 408.62H50.50" /><path d="M47.10 388.94H50.50" /><path d="M47.10 369.25H50.50" /><path d="M58.50 456.80H183.30" /><path d="M59.30 456.80V459.80" /><path d="M90.10 456.80V459.80" /><path d="M120.90 456.80V459.80" /><path d="M151.70 456.80V459.80" /><path d="M182.50 456.80V459.80" /></g>
<g class="tk"><text x="46.90" y="451.10" text-anchor="end">0</text><text x="46.90" y="431.41" text-anchor="end">0.25</text><text x="46.90" y="411.73" text-anchor="end">0.50</text><text x="46.90" y="392.04" text-anchor="end">0.75</text><text x="46.90" y="372.35" text-anchor="end">1.00</text><text x="59.30" y="468.00" text-anchor="middle">0</text><text x="90.10" y="468.00" text-anchor="middle">5</text><text x="120.90" y="468.00" text-anchor="middle">10</text><text x="151.70" y="468.00" text-anchor="middle">15</text><text x="182.50" y="468.00" text-anchor="middle">20</text></g>
<text class="ti" x="140.75" y="399.70">CCL5</text>
<path d="M59.30 447.21 L65.46 445.64 L71.62 437.53 L77.78 413.03 L83.94 410.51 L102.42 407.05 L120.90 408.00 L139.38 416.97 L170.18 440.91" fill="none" stroke="#5a5ae8" stroke-width="1.7" stroke-linejoin="round"/>
<path d="M59.30 446.43 L65.46 445.64 L71.62 444.06 L77.78 415.48 L83.94 428.79 L102.42 407.84 L120.90 432.01 L139.38 433.04 L170.18 441.70" fill="none" stroke="#88c860" stroke-width="1.9" stroke-linejoin="round"/>
<path d="M59.30 446.27 L65.46 445.01 L71.62 443.75 L77.78 442.01 L83.94 439.50 L102.42 440.52 L120.90 440.12 L139.38 440.12 L170.18 444.06" fill="none" stroke="#dc1c22" stroke-width="1.75" stroke-linejoin="round"/>
<rect x="55.75" y="443.66" width="7.10" height="7.10" fill="#6262f2" stroke="#111" stroke-width="1.3"/>
<rect x="61.91" y="442.09" width="7.10" height="7.10" fill="#6262f2" stroke="#111" stroke-width="1.3"/>
<rect x="68.07" y="433.98" width="7.10" height="7.10" fill="#6262f2" stroke="#111" stroke-width="1.3"/>
<rect x="74.23" y="409.48" width="7.10" height="7.10" fill="#6262f2" stroke="#111" stroke-width="1.3"/>
<rect x="80.39" y="406.96" width="7.10" height="7.10" fill="#6262f2" stroke="#111" stroke-width="1.3"/>
<rect x="98.87" y="403.50" width="7.10" height="7.10" fill="#6262f2" stroke="#111" stroke-width="1.3"/>
<rect x="117.35" y="404.44" width="7.10" height="7.10" fill="#6262f2" stroke="#111" stroke-width="1.3"/>
<rect x="135.83" y="413.42" width="7.10" height="7.10" fill="#6262f2" stroke="#111" stroke-width="1.3"/>
<rect x="166.63" y="437.36" width="7.10" height="7.10" fill="#6262f2" stroke="#111" stroke-width="1.3"/>
<path d="M56.04 443.07L62.56 443.07L59.30 449.12Z" fill="#6cbf42" stroke="#111" stroke-width="1.7" stroke-linejoin="miter"/>
<path d="M62.20 442.29L68.72 442.29L65.46 448.34Z" fill="#6cbf42" stroke="#111" stroke-width="1.7" stroke-linejoin="miter"/>
<path d="M68.36 440.71L74.88 440.71L71.62 446.76Z" fill="#6cbf42" stroke="#111" stroke-width="1.7" stroke-linejoin="miter"/>
<path d="M74.52 412.13L81.04 412.13L77.78 418.18Z" fill="#6cbf42" stroke="#111" stroke-width="1.7" stroke-linejoin="miter"/>
<path d="M80.68 425.44L87.20 425.44L83.94 431.49Z" fill="#6cbf42" stroke="#111" stroke-width="1.7" stroke-linejoin="miter"/>
<path d="M99.16 404.49L105.68 404.49L102.42 410.54Z" fill="#6cbf42" stroke="#111" stroke-width="1.7" stroke-linejoin="miter"/>
<path d="M117.64 428.66L124.16 428.66L120.90 434.71Z" fill="#6cbf42" stroke="#111" stroke-width="1.7" stroke-linejoin="miter"/>
<path d="M136.12 429.69L142.64 429.69L139.38 435.74Z" fill="#6cbf42" stroke="#111" stroke-width="1.7" stroke-linejoin="miter"/>
<path d="M166.92 438.35L173.44 438.35L170.18 444.40Z" fill="#6cbf42" stroke="#111" stroke-width="1.7" stroke-linejoin="miter"/>
<circle cx="59.30" cy="446.27" r="3.45" fill="#e01010" stroke="#111" stroke-width="1.3"/>
<circle cx="65.46" cy="445.01" r="3.45" fill="#e01010" stroke="#111" stroke-width="1.3"/>
<circle cx="71.62" cy="443.75" r="3.45" fill="#e01010" stroke="#111" stroke-width="1.3"/>
<circle cx="77.78" cy="442.01" r="3.45" fill="#e01010" stroke="#111" stroke-width="1.3"/>
<circle cx="83.94" cy="439.50" r="3.45" fill="#e01010" stroke="#111" stroke-width="1.3"/>
<circle cx="102.42" cy="440.52" r="3.45" fill="#e01010" stroke="#111" stroke-width="1.3"/>
<circle cx="120.90" cy="440.12" r="3.45" fill="#e01010" stroke="#111" stroke-width="1.3"/>
<circle cx="139.38" cy="440.12" r="3.45" fill="#e01010" stroke="#111" stroke-width="1.3"/>
<circle cx="170.18" cy="444.06" r="3.45" fill="#e01010" stroke="#111" stroke-width="1.3"/>
<g stroke="#000" stroke-width="1.6" fill="none"><path d="M206.25 370.00V449.55" /><path d="M202.85 448.75H206.25" /><path d="M202.85 422.50H206.25" /><path d="M202.85 396.25H206.25" /><path d="M202.85 370.00H206.25" /><path d="M214.95 456.80H339.55" /><path d="M215.75 456.80V459.80" /><path d="M246.50 456.80V459.80" /><path d="M277.25 456.80V459.80" /><path d="M308.00 456.80V459.80" /><path d="M338.75 456.80V459.80" /></g>
<g class="tk"><text x="202.65" y="451.85" text-anchor="end">0</text><text x="202.65" y="425.60" text-anchor="end">5</text><text x="202.65" y="399.35" text-anchor="end">10</text><text x="202.65" y="373.10" text-anchor="end">15</text><text x="215.75" y="468.00" text-anchor="middle">0</text><text x="246.50" y="468.00" text-anchor="middle">5</text><text x="277.25" y="468.00" text-anchor="middle">10</text><text x="308.00" y="468.00" text-anchor="middle">15</text><text x="338.75" y="468.00" text-anchor="middle">20</text></g>
<text class="ti" x="288.00" y="399.20">CXCL9</text>
<path d="M215.75 448.75 L221.90 447.70 L228.05 446.12 L234.20 418.77 L240.35 416.25 L258.80 411.26 L277.25 399.98 L295.70 417.51 L326.45 439.98" fill="none" stroke="#5a5ae8" stroke-width="1.7" stroke-linejoin="round"/>
<path d="M215.75 448.75 L221.90 448.23 L228.05 445.60 L234.20 403.23 L240.35 424.50 L258.80 377.98 L277.25 415.52 L295.70 429.48 L326.45 442.45" fill="none" stroke="#88c860" stroke-width="1.9" stroke-linejoin="round"/>
<path d="M215.75 448.75 L221.90 448.23 L228.05 448.23 L234.20 448.23 L240.35 448.23 L258.80 447.02 L277.25 438.77 L295.70 440.51 L326.45 445.02" fill="none" stroke="#dc1c22" stroke-width="1.75" stroke-linejoin="round"/>
<rect x="212.20" y="445.20" width="7.10" height="7.10" fill="#6262f2" stroke="#111" stroke-width="1.3"/>
<rect x="218.35" y="444.15" width="7.10" height="7.10" fill="#6262f2" stroke="#111" stroke-width="1.3"/>
<rect x="224.50" y="442.57" width="7.10" height="7.10" fill="#6262f2" stroke="#111" stroke-width="1.3"/>
<rect x="230.65" y="415.22" width="7.10" height="7.10" fill="#6262f2" stroke="#111" stroke-width="1.3"/>
<rect x="236.80" y="412.70" width="7.10" height="7.10" fill="#6262f2" stroke="#111" stroke-width="1.3"/>
<rect x="255.25" y="407.71" width="7.10" height="7.10" fill="#6262f2" stroke="#111" stroke-width="1.3"/>
<rect x="273.70" y="396.43" width="7.10" height="7.10" fill="#6262f2" stroke="#111" stroke-width="1.3"/>
<rect x="292.15" y="413.96" width="7.10" height="7.10" fill="#6262f2" stroke="#111" stroke-width="1.3"/>
<rect x="322.90" y="436.43" width="7.10" height="7.10" fill="#6262f2" stroke="#111" stroke-width="1.3"/>
<path d="M212.49 445.40L219.01 445.40L215.75 451.45Z" fill="#6cbf42" stroke="#111" stroke-width="1.7" stroke-linejoin="miter"/>
<path d="M218.64 444.88L225.16 444.88L221.90 450.93Z" fill="#6cbf42" stroke="#111" stroke-width="1.7" stroke-linejoin="miter"/>
<path d="M224.79 442.25L231.31 442.25L228.05 448.30Z" fill="#6cbf42" stroke="#111" stroke-width="1.7" stroke-linejoin="miter"/>
<path d="M230.94 399.88L237.46 399.88L234.20 405.93Z" fill="#6cbf42" stroke="#111" stroke-width="1.7" stroke-linejoin="miter"/>
<path d="M237.09 421.14L243.61 421.14L240.35 427.19Z" fill="#6cbf42" stroke="#111" stroke-width="1.7" stroke-linejoin="miter"/>
<path d="M255.54 374.63L262.06 374.63L258.80 380.68Z" fill="#6cbf42" stroke="#111" stroke-width="1.7" stroke-linejoin="miter"/>
<path d="M273.99 412.17L280.51 412.17L277.25 418.22Z" fill="#6cbf42" stroke="#111" stroke-width="1.7" stroke-linejoin="miter"/>
<path d="M292.44 426.13L298.96 426.13L295.70 432.18Z" fill="#6cbf42" stroke="#111" stroke-width="1.7" stroke-linejoin="miter"/>
<path d="M323.19 439.10L329.71 439.10L326.45 445.15Z" fill="#6cbf42" stroke="#111" stroke-width="1.7" stroke-linejoin="miter"/>
<circle cx="215.75" cy="448.75" r="3.45" fill="#e01010" stroke="#111" stroke-width="1.3"/>
<circle cx="221.90" cy="448.23" r="3.45" fill="#e01010" stroke="#111" stroke-width="1.3"/>
<circle cx="228.05" cy="448.23" r="3.45" fill="#e01010" stroke="#111" stroke-width="1.3"/>
<circle cx="234.20" cy="448.23" r="3.45" fill="#e01010" stroke="#111" stroke-width="1.3"/>
<circle cx="240.35" cy="448.23" r="3.45" fill="#e01010" stroke="#111" stroke-width="1.3"/>
<circle cx="258.80" cy="447.02" r="3.45" fill="#e01010" stroke="#111" stroke-width="1.3"/>
<circle cx="277.25" cy="438.77" r="3.45" fill="#e01010" stroke="#111" stroke-width="1.3"/>
<circle cx="295.70" cy="440.51" r="3.45" fill="#e01010" stroke="#111" stroke-width="1.3"/>
<circle cx="326.45" cy="445.02" r="3.45" fill="#e01010" stroke="#111" stroke-width="1.3"/>
<g stroke="#000" stroke-width="1.6" fill="none"><path d="M353.75 369.25V448.80" /><path d="M350.35 448.00H353.75" /><path d="M350.35 428.31H353.75" /><path d="M350.35 408.62H353.75" /><path d="M350.35 388.94H353.75" /><path d="M350.35 369.25H353.75" /><path d="M360.95 456.80H485.55" /><path d="M361.75 456.80V459.80" /><path d="M392.50 456.80V459.80" /><path d="M423.25 456.80V459.80" /><path d="M454.00 456.80V459.80" /><path d="M484.75 456.80V459.80" /></g>
<g class="tk"><text x="350.15" y="451.10" text-anchor="end">0</text><text x="350.15" y="431.41" text-anchor="end">2.5</text><text x="350.15" y="411.73" text-anchor="end">5.0</text><text x="350.15" y="392.04" text-anchor="end">7.5</text><text x="350.15" y="372.35" text-anchor="end">10</text><text x="361.75" y="468.00" text-anchor="middle">0</text><text x="392.50" y="468.00" text-anchor="middle">5</text><text x="423.25" y="468.00" text-anchor="middle">10</text><text x="454.00" y="468.00" text-anchor="middle">15</text><text x="484.75" y="468.00" text-anchor="middle">20</text></g>
<text class="ti" x="435.50" y="399.20">CXCL10</text>
<path d="M361.75 447.21 L367.90 439.97 L374.05 425.00 L380.20 411.22 L386.35 415.48 L404.80 419.49 L423.25 428.31 L441.70 433.75 L472.45 441.70" fill="none" stroke="#5a5ae8" stroke-width="1.7" stroke-linejoin="round"/>
<path d="M361.75 448.00 L367.90 440.91 L374.05 428.79 L380.20 402.01 L386.35 413.74 L404.80 407.05 L423.25 433.04 L441.70 438.24 L472.45 441.23" fill="none" stroke="#88c860" stroke-width="1.9" stroke-linejoin="round"/>
<path d="M361.75 447.21 L367.90 446.27 L374.05 443.04 L380.20 443.04 L386.35 445.01 L404.80 442.01 L423.25 442.49 L441.70 444.54 L472.45 447.21" fill="none" stroke="#dc1c22" stroke-width="1.75" stroke-linejoin="round"/>
<rect x="358.20" y="443.66" width="7.10" height="7.10" fill="#6262f2" stroke="#111" stroke-width="1.3"/>
<rect x="364.35" y="436.42" width="7.10" height="7.10" fill="#6262f2" stroke="#111" stroke-width="1.3"/>
<rect x="370.50" y="421.45" width="7.10" height="7.10" fill="#6262f2" stroke="#111" stroke-width="1.3"/>
<rect x="376.65" y="407.67" width="7.10" height="7.10" fill="#6262f2" stroke="#111" stroke-width="1.3"/>
<rect x="382.80" y="411.93" width="7.10" height="7.10" fill="#6262f2" stroke="#111" stroke-width="1.3"/>
<rect x="401.25" y="415.94" width="7.10" height="7.10" fill="#6262f2" stroke="#111" stroke-width="1.3"/>
<rect x="419.70" y="424.76" width="7.10" height="7.10" fill="#6262f2" stroke="#111" stroke-width="1.3"/>
<rect x="438.15" y="430.20" width="7.10" height="7.10" fill="#6262f2" stroke="#111" stroke-width="1.3"/>
<rect x="468.90" y="438.15" width="7.10" height="7.10" fill="#6262f2" stroke="#111" stroke-width="1.3"/>
<path d="M358.49 444.65L365.01 444.65L361.75 450.70Z" fill="#6cbf42" stroke="#111" stroke-width="1.7" stroke-linejoin="miter"/>
<path d="M364.64 437.56L371.16 437.56L367.90 443.61Z" fill="#6cbf42" stroke="#111" stroke-width="1.7" stroke-linejoin="miter"/>
<path d="M370.79 425.44L377.31 425.44L374.05 431.49Z" fill="#6cbf42" stroke="#111" stroke-width="1.7" stroke-linejoin="miter"/>
<path d="M376.94 398.66L383.46 398.66L380.20 404.71Z" fill="#6cbf42" stroke="#111" stroke-width="1.7" stroke-linejoin="miter"/>
<path d="M383.09 410.39L389.61 410.39L386.35 416.44Z" fill="#6cbf42" stroke="#111" stroke-width="1.7" stroke-linejoin="miter"/>
<path d="M401.54 403.70L408.06 403.70L404.80 409.75Z" fill="#6cbf42" stroke="#111" stroke-width="1.7" stroke-linejoin="miter"/>
<path d="M419.99 429.69L426.51 429.69L423.25 435.74Z" fill="#6cbf42" stroke="#111" stroke-width="1.7" stroke-linejoin="miter"/>
<path d="M438.44 434.88L444.96 434.88L441.70 440.94Z" fill="#6cbf42" stroke="#111" stroke-width="1.7" stroke-linejoin="miter"/>
<path d="M469.19 437.88L475.71 437.88L472.45 443.93Z" fill="#6cbf42" stroke="#111" stroke-width="1.7" stroke-linejoin="miter"/>
<circle cx="361.75" cy="447.21" r="3.45" fill="#e01010" stroke="#111" stroke-width="1.3"/>
<circle cx="367.90" cy="446.27" r="3.45" fill="#e01010" stroke="#111" stroke-width="1.3"/>
<circle cx="374.05" cy="443.04" r="3.45" fill="#e01010" stroke="#111" stroke-width="1.3"/>
<circle cx="380.20" cy="443.04" r="3.45" fill="#e01010" stroke="#111" stroke-width="1.3"/>
<circle cx="386.35" cy="445.01" r="3.45" fill="#e01010" stroke="#111" stroke-width="1.3"/>
<circle cx="404.80" cy="442.01" r="3.45" fill="#e01010" stroke="#111" stroke-width="1.3"/>
<circle cx="423.25" cy="442.49" r="3.45" fill="#e01010" stroke="#111" stroke-width="1.3"/>
<circle cx="441.70" cy="444.54" r="3.45" fill="#e01010" stroke="#111" stroke-width="1.3"/>
<circle cx="472.45" cy="447.21" r="3.45" fill="#e01010" stroke="#111" stroke-width="1.3"/>
<g stroke="#000" stroke-width="1.6" fill="none"><path d="M49.50 536.25V617.05" /><path d="M46.10 616.25H49.50" /><path d="M46.10 600.25H49.50" /><path d="M46.10 584.25H49.50" /><path d="M46.10 568.25H49.50" /><path d="M46.10 552.25H49.50" /><path d="M46.10 536.25H49.50" /><path d="M57.95 625.00H183.30" /><path d="M58.75 625.00V628.00" /><path d="M100.00 625.00V628.00" /><path d="M141.25 625.00V628.00" /><path d="M182.50 625.00V628.00" /></g>
<g class="tk"><text x="45.90" y="619.35" text-anchor="end">0</text><text x="45.90" y="603.35" text-anchor="end">10</text><text x="45.90" y="587.35" text-anchor="end">20</text><text x="45.90" y="571.35" text-anchor="end">30</text><text x="45.90" y="555.35" text-anchor="end">40</text><text x="45.90" y="539.35" text-anchor="end">50</text><text x="58.75" y="636.20" text-anchor="middle">0</text><text x="100.00" y="636.20" text-anchor="middle">5</text><text x="141.25" y="636.20" text-anchor="middle">10</text><text x="182.50" y="636.20" text-anchor="middle">15</text></g>
<text class="ti" x="140.65" y="552.20">IFN</text>
<text class="tg" transform="translate(163.50 552.20) scale(1.15 1)">&#945;</text>
<path d="M58.75 616.25 L67.00 588.73 L75.25 540.57 L83.50 593.05 L91.75 575.45 L116.50 614.65 L141.25 615.45 L166.00 615.45" fill="none" stroke="#5a5ae8" stroke-width="2.2" stroke-linejoin="round"/>
<path d="M58.75 616.25 L67.00 562.49 L75.25 567.93 L83.50 568.73 L91.75 603.77 L116.50 614.65 L141.25 615.45 L166.00 615.45" fill="none" stroke="#88c860" stroke-width="2.2" stroke-linejoin="round"/>
<path d="M58.75 616.25 L67.00 580.73 L75.25 557.53 L83.50 591.29 L91.75 609.53 L116.50 616.25 L141.25 616.25 L166.00 616.25" fill="none" stroke="#c8141e" stroke-width="2.4" stroke-linejoin="round"/>
<rect x="55.20" y="612.70" width="7.10" height="7.10" fill="#6262f2" stroke="#111" stroke-width="1.3"/>
<rect x="63.45" y="585.18" width="7.10" height="7.10" fill="#6262f2" stroke="#111" stroke-width="1.3"/>
<rect x="71.70" y="537.02" width="7.10" height="7.10" fill="#6262f2" stroke="#111" stroke-width="1.3"/>
<rect x="79.95" y="589.50" width="7.10" height="7.10" fill="#6262f2" stroke="#111" stroke-width="1.3"/>
<rect x="88.20" y="571.90" width="7.10" height="7.10" fill="#6262f2" stroke="#111" stroke-width="1.3"/>
<rect x="112.95" y="611.10" width="7.10" height="7.10" fill="#6262f2" stroke="#111" stroke-width="1.3"/>
<rect x="137.70" y="611.90" width="7.10" height="7.10" fill="#6262f2" stroke="#111" stroke-width="1.3"/>
<rect x="162.45" y="611.90" width="7.10" height="7.10" fill="#6262f2" stroke="#111" stroke-width="1.3"/>
<path d="M55.49 612.90L62.01 612.90L58.75 618.95Z" fill="#6cbf42" stroke="#111" stroke-width="1.7" stroke-linejoin="miter"/>
<path d="M63.74 559.14L70.26 559.14L67.00 565.19Z" fill="#6cbf42" stroke="#111" stroke-width="1.7" stroke-linejoin="miter"/>
<path d="M71.99 564.58L78.51 564.58L75.25 570.63Z" fill="#6cbf42" stroke="#111" stroke-width="1.7" stroke-linejoin="miter"/>
<path d="M80.24 565.38L86.76 565.38L83.50 571.43Z" fill="#6cbf42" stroke="#111" stroke-width="1.7" stroke-linejoin="miter"/>
<path d="M88.49 600.42L95.01 600.42L91.75 606.47Z" fill="#6cbf42" stroke="#111" stroke-width="1.7" stroke-linejoin="miter"/>
<path d="M113.24 611.30L119.76 611.30L116.50 617.35Z" fill="#6cbf42" stroke="#111" stroke-width="1.7" stroke-linejoin="miter"/>
<path d="M137.99 612.10L144.51 612.10L141.25 618.15Z" fill="#6cbf42" stroke="#111" stroke-width="1.7" stroke-linejoin="miter"/>
<path d="M162.74 612.10L169.26 612.10L166.00 618.15Z" fill="#6cbf42" stroke="#111" stroke-width="1.7" stroke-linejoin="miter"/>
<circle cx="58.75" cy="616.25" r="3.45" fill="#e01010" stroke="#111" stroke-width="1.3"/>
<circle cx="67.00" cy="580.73" r="3.45" fill="#e01010" stroke="#111" stroke-width="1.3"/>
<circle cx="75.25" cy="557.53" r="3.45" fill="#e01010" stroke="#111" stroke-width="1.3"/>
<circle cx="83.50" cy="591.29" r="3.45" fill="#e01010" stroke="#111" stroke-width="1.3"/>
<circle cx="91.75" cy="609.53" r="3.45" fill="#e01010" stroke="#111" stroke-width="1.3"/>
<circle cx="116.50" cy="616.25" r="3.45" fill="#e01010" stroke="#111" stroke-width="1.3"/>
<circle cx="141.25" cy="616.25" r="3.45" fill="#e01010" stroke="#111" stroke-width="1.3"/>
<circle cx="166.00" cy="616.25" r="3.45" fill="#e01010" stroke="#111" stroke-width="1.3"/>
<g stroke="#000" stroke-width="1.6" fill="none"><path d="M204.50 536.25V617.05" /><path d="M201.10 616.25H204.50" /><path d="M201.10 589.58H204.50" /><path d="M201.10 562.92H204.50" /><path d="M201.10 536.25H204.50" /><path d="M212.45 625.00H337.80" /><path d="M213.25 625.00V628.00" /><path d="M254.50 625.00V628.00" /><path d="M295.75 625.00V628.00" /><path d="M337.00 625.00V628.00" /></g>
<g class="tk"><text x="200.90" y="619.35" text-anchor="end">0</text><text x="200.90" y="592.68" text-anchor="end">5</text><text x="200.90" y="566.02" text-anchor="end">10</text><text x="200.90" y="539.35" text-anchor="end">15</text><text x="213.25" y="636.20" text-anchor="middle">0</text><text x="254.50" y="636.20" text-anchor="middle">5</text><text x="295.75" y="636.20" text-anchor="middle">10</text><text x="337.00" y="636.20" text-anchor="middle">15</text></g>
<text class="ti" x="288.15" y="552.20">IFN</text>
<text class="tg" x="311.00" y="552.20">&#946;</text>
<path d="M213.25 615.18 L221.50 603.98 L229.75 559.18 L238.00 583.72 L246.25 594.22 L271.00 615.18 L295.75 614.65 L320.50 612.52" fill="none" stroke="#5a5ae8" stroke-width="2.2" stroke-linejoin="round"/>
<path d="M213.25 616.25 L221.50 603.98 L229.75 585.48 L238.00 587.98 L246.25 607.50 L271.00 615.18 L295.75 615.72 L320.50 615.72" fill="none" stroke="#88c860" stroke-width="2.2" stroke-linejoin="round"/>
<path d="M213.25 616.25 L221.50 610.01 L229.75 590.01 L238.00 605.00 L246.25 613.00 L271.00 616.25 L295.75 616.25 L320.50 616.25" fill="none" stroke="#c8141e" stroke-width="2.4" stroke-linejoin="round"/>
<rect x="209.70" y="611.63" width="7.10" height="7.10" fill="#6262f2" stroke="#111" stroke-width="1.3"/>
<rect x="217.95" y="600.43" width="7.10" height="7.10" fill="#6262f2" stroke="#111" stroke-width="1.3"/>
<rect x="226.20" y="555.63" width="7.10" height="7.10" fill="#6262f2" stroke="#111" stroke-width="1.3"/>
<rect x="234.45" y="580.17" width="7.10" height="7.10" fill="#6262f2" stroke="#111" stroke-width="1.3"/>
<rect x="242.70" y="590.67" width="7.10" height="7.10" fill="#6262f2" stroke="#111" stroke-width="1.3"/>
<rect x="267.45" y="611.63" width="7.10" height="7.10" fill="#6262f2" stroke="#111" stroke-width="1.3"/>
<rect x="292.20" y="611.10" width="7.10" height="7.10" fill="#6262f2" stroke="#111" stroke-width="1.3"/>
<rect x="316.95" y="608.97" width="7.10" height="7.10" fill="#6262f2" stroke="#111" stroke-width="1.3"/>
<path d="M209.99 612.90L216.51 612.90L213.25 618.95Z" fill="#6cbf42" stroke="#111" stroke-width="1.7" stroke-linejoin="miter"/>
<path d="M218.24 600.63L224.76 600.63L221.50 606.68Z" fill="#6cbf42" stroke="#111" stroke-width="1.7" stroke-linejoin="miter"/>
<path d="M226.49 582.13L233.01 582.13L229.75 588.18Z" fill="#6cbf42" stroke="#111" stroke-width="1.7" stroke-linejoin="miter"/>
<path d="M234.74 584.63L241.26 584.63L238.00 590.68Z" fill="#6cbf42" stroke="#111" stroke-width="1.7" stroke-linejoin="miter"/>
<path d="M242.99 604.15L249.51 604.15L246.25 610.20Z" fill="#6cbf42" stroke="#111" stroke-width="1.7" stroke-linejoin="miter"/>
<path d="M267.74 611.83L274.26 611.83L271.00 617.88Z" fill="#6cbf42" stroke="#111" stroke-width="1.7" stroke-linejoin="miter"/>
<path d="M292.49 612.37L299.01 612.37L295.75 618.42Z" fill="#6cbf42" stroke="#111" stroke-width="1.7" stroke-linejoin="miter"/>
<path d="M317.24 612.37L323.76 612.37L320.50 618.42Z" fill="#6cbf42" stroke="#111" stroke-width="1.7" stroke-linejoin="miter"/>
<circle cx="213.25" cy="616.25" r="3.45" fill="#e01010" stroke="#111" stroke-width="1.3"/>
<circle cx="221.50" cy="610.01" r="3.45" fill="#e01010" stroke="#111" stroke-width="1.3"/>
<circle cx="229.75" cy="590.01" r="3.45" fill="#e01010" stroke="#111" stroke-width="1.3"/>
<circle cx="238.00" cy="605.00" r="3.45" fill="#e01010" stroke="#111" stroke-width="1.3"/>
<circle cx="246.25" cy="613.00" r="3.45" fill="#e01010" stroke="#111" stroke-width="1.3"/>
<circle cx="271.00" cy="616.25" r="3.45" fill="#e01010" stroke="#111" stroke-width="1.3"/>
<circle cx="295.75" cy="616.25" r="3.45" fill="#e01010" stroke="#111" stroke-width="1.3"/>
<circle cx="320.50" cy="616.25" r="3.45" fill="#e01010" stroke="#111" stroke-width="1.3"/>
<g stroke="#000" stroke-width="1.6" fill="none"><path d="M353.75 536.25V616.55" /><path d="M350.35 615.75H353.75" /><path d="M350.35 595.88H353.75" /><path d="M350.35 576.00H353.75" /><path d="M350.35 556.12H353.75" /><path d="M350.35 536.25H353.75" /><path d="M361.70 625.00H487.80" /><path d="M362.50 625.00V628.00" /><path d="M404.00 625.00V628.00" /><path d="M445.50 625.00V628.00" /><path d="M487.00 625.00V628.00" /></g>
<g class="tk"><text x="350.15" y="618.85" text-anchor="end">0</text><text x="350.15" y="598.98" text-anchor="end">1</text><text x="350.15" y="579.10" text-anchor="end">2</text><text x="350.15" y="559.23" text-anchor="end">3</text><text x="350.15" y="539.35" text-anchor="end">4</text><text x="362.50" y="636.20" text-anchor="middle">0</text><text x="404.00" y="636.20" text-anchor="middle">5</text><text x="445.50" y="636.20" text-anchor="middle">10</text><text x="487.00" y="636.20" text-anchor="middle">15</text></g>
<text class="ti" x="434.40" y="552.20">IL-12p40</text>
<path d="M362.50 615.75 L370.80 613.76 L379.10 606.21 L387.40 595.08 L395.70 595.08 L420.60 612.77 L445.50 613.76 L470.40 615.75" fill="none" stroke="#5a5ae8" stroke-width="2.2" stroke-linejoin="round"/>
<path d="M362.50 615.75 L370.80 613.76 L379.10 607.80 L387.40 549.57 L395.70 595.08 L420.60 608.79 L445.50 613.76 L470.40 615.75" fill="none" stroke="#88c860" stroke-width="2.2" stroke-linejoin="round"/>
<path d="M362.50 615.75 L370.80 614.76 L379.10 612.57 L387.40 586.34 L395.70 607.60 L420.60 613.76 L445.50 615.75 L470.40 615.75" fill="none" stroke="#c8141e" stroke-width="2.4" stroke-linejoin="round"/>
<rect x="358.95" y="612.20" width="7.10" height="7.10" fill="#6262f2" stroke="#111" stroke-width="1.3"/>
<rect x="367.25" y="610.21" width="7.10" height="7.10" fill="#6262f2" stroke="#111" stroke-width="1.3"/>
<rect x="375.55" y="602.66" width="7.10" height="7.10" fill="#6262f2" stroke="#111" stroke-width="1.3"/>
<rect x="383.85" y="591.53" width="7.10" height="7.10" fill="#6262f2" stroke="#111" stroke-width="1.3"/>
<rect x="392.15" y="591.53" width="7.10" height="7.10" fill="#6262f2" stroke="#111" stroke-width="1.3"/>
<rect x="417.05" y="609.22" width="7.10" height="7.10" fill="#6262f2" stroke="#111" stroke-width="1.3"/>
<rect x="441.95" y="610.21" width="7.10" height="7.10" fill="#6262f2" stroke="#111" stroke-width="1.3"/>
<rect x="466.85" y="612.20" width="7.10" height="7.10" fill="#6262f2" stroke="#111" stroke-width="1.3"/>
<path d="M359.24 612.40L365.76 612.40L362.50 618.45Z" fill="#6cbf42" stroke="#111" stroke-width="1.7" stroke-linejoin="miter"/>
<path d="M367.54 610.41L374.06 610.41L370.80 616.46Z" fill="#6cbf42" stroke="#111" stroke-width="1.7" stroke-linejoin="miter"/>
<path d="M375.84 604.45L382.36 604.45L379.10 610.50Z" fill="#6cbf42" stroke="#111" stroke-width="1.7" stroke-linejoin="miter"/>
<path d="M384.14 546.22L390.66 546.22L387.40 552.27Z" fill="#6cbf42" stroke="#111" stroke-width="1.7" stroke-linejoin="miter"/>
<path d="M392.44 591.73L398.96 591.73L395.70 597.78Z" fill="#6cbf42" stroke="#111" stroke-width="1.7" stroke-linejoin="miter"/>
<path d="M417.34 605.44L423.86 605.44L420.60 611.49Z" fill="#6cbf42" stroke="#111" stroke-width="1.7" stroke-linejoin="miter"/>
<path d="M442.24 610.41L448.76 610.41L445.50 616.46Z" fill="#6cbf42" stroke="#111" stroke-width="1.7" stroke-linejoin="miter"/>
<path d="M467.14 612.40L473.66 612.40L470.40 618.45Z" fill="#6cbf42" stroke="#111" stroke-width="1.7" stroke-linejoin="miter"/>
<circle cx="362.50" cy="615.75" r="3.45" fill="#e01010" stroke="#111" stroke-width="1.3"/>
<circle cx="370.80" cy="614.76" r="3.45" fill="#e01010" stroke="#111" stroke-width="1.3"/>
<circle cx="379.10" cy="612.57" r="3.45" fill="#e01010" stroke="#111" stroke-width="1.3"/>
<circle cx="387.40" cy="586.34" r="3.45" fill="#e01010" stroke="#111" stroke-width="1.3"/>
<circle cx="395.70" cy="607.60" r="3.45" fill="#e01010" stroke="#111" stroke-width="1.3"/>
<circle cx="420.60" cy="613.76" r="3.45" fill="#e01010" stroke="#111" stroke-width="1.3"/>
<circle cx="445.50" cy="615.75" r="3.45" fill="#e01010" stroke="#111" stroke-width="1.3"/>
<circle cx="470.40" cy="615.75" r="3.45" fill="#e01010" stroke="#111" stroke-width="1.3"/>
<g stroke="#000" stroke-width="1.6" fill="none"><path d="M50.50 637.50V717.80" /><path d="M47.10 717.00H50.50" /><path d="M47.10 701.10H50.50" /><path d="M47.10 685.20H50.50" /><path d="M47.10 669.30H50.50" /><path d="M47.10 653.40H50.50" /><path d="M47.10 637.50H50.50" /><path d="M58.70 727.00H184.80" /><path d="M59.50 727.00V730.00" /><path d="M101.00 727.00V730.00" /><path d="M142.50 727.00V730.00" /><path d="M184.00 727.00V730.00" /></g>
<g class="tk"><text x="46.90" y="720.10" text-anchor="end">0</text><text x="46.90" y="704.20" text-anchor="end">10</text><text x="46.90" y="688.30" text-anchor="end">20</text><text x="46.90" y="672.40" text-anchor="end">30</text><text x="46.90" y="656.50" text-anchor="end">40</text><text x="46.90" y="640.60" text-anchor="end">50</text><text x="59.50" y="738.20" text-anchor="middle">0</text><text x="101.00" y="738.20" text-anchor="middle">5</text><text x="142.50" y="738.20" text-anchor="middle">10</text><text x="184.00" y="738.20" text-anchor="middle">15</text></g>
<text class="ti" x="140.65" y="660.00">IL-6</text>
<path d="M59.50 717.00 L67.80 665.48 L76.10 647.04 L84.40 678.04 L92.70 664.53 L117.60 712.07 L142.50 716.21 L167.40 717.00" fill="none" stroke="#5a5ae8" stroke-width="2.2" stroke-linejoin="round"/>
<path d="M59.50 717.00 L67.80 672.96 L76.10 672.96 L84.40 666.28 L92.70 702.53 L117.60 706.19 L142.50 716.21 L167.40 717.00" fill="none" stroke="#88c860" stroke-width="2.2" stroke-linejoin="round"/>
<path d="M59.50 717.00 L67.80 702.53 L76.10 682.97 L84.40 691.24 L92.70 699.99 L117.60 709.53 L142.50 716.21 L167.40 717.00" fill="none" stroke="#c8141e" stroke-width="2.4" stroke-linejoin="round"/>
<rect x="55.95" y="713.45" width="7.10" height="7.10" fill="#6262f2" stroke="#111" stroke-width="1.3"/>
<rect x="64.25" y="661.93" width="7.10" height="7.10" fill="#6262f2" stroke="#111" stroke-width="1.3"/>
<rect x="72.55" y="643.49" width="7.10" height="7.10" fill="#6262f2" stroke="#111" stroke-width="1.3"/>
<rect x="80.85" y="674.49" width="7.10" height="7.10" fill="#6262f2" stroke="#111" stroke-width="1.3"/>
<rect x="89.15" y="660.98" width="7.10" height="7.10" fill="#6262f2" stroke="#111" stroke-width="1.3"/>
<rect x="114.05" y="708.52" width="7.10" height="7.10" fill="#6262f2" stroke="#111" stroke-width="1.3"/>
<rect x="138.95" y="712.65" width="7.10" height="7.10" fill="#6262f2" stroke="#111" stroke-width="1.3"/>
<rect x="163.85" y="713.45" width="7.10" height="7.10" fill="#6262f2" stroke="#111" stroke-width="1.3"/>
<path d="M56.24 713.65L62.76 713.65L59.50 719.70Z" fill="#6cbf42" stroke="#111" stroke-width="1.7" stroke-linejoin="miter"/>
<path d="M64.54 669.61L71.06 669.61L67.80 675.66Z" fill="#6cbf42" stroke="#111" stroke-width="1.7" stroke-linejoin="miter"/>
<path d="M72.84 669.61L79.36 669.61L76.10 675.66Z" fill="#6cbf42" stroke="#111" stroke-width="1.7" stroke-linejoin="miter"/>
<path d="M81.14 662.93L87.66 662.93L84.40 668.98Z" fill="#6cbf42" stroke="#111" stroke-width="1.7" stroke-linejoin="miter"/>
<path d="M89.44 699.18L95.96 699.18L92.70 705.23Z" fill="#6cbf42" stroke="#111" stroke-width="1.7" stroke-linejoin="miter"/>
<path d="M114.34 702.84L120.86 702.84L117.60 708.89Z" fill="#6cbf42" stroke="#111" stroke-width="1.7" stroke-linejoin="miter"/>
<path d="M139.24 712.86L145.76 712.86L142.50 718.91Z" fill="#6cbf42" stroke="#111" stroke-width="1.7" stroke-linejoin="miter"/>
<path d="M164.14 713.65L170.66 713.65L167.40 719.70Z" fill="#6cbf42" stroke="#111" stroke-width="1.7" stroke-linejoin="miter"/>
<circle cx="59.50" cy="717.00" r="3.45" fill="#e01010" stroke="#111" stroke-width="1.3"/>
<circle cx="67.80" cy="702.53" r="3.45" fill="#e01010" stroke="#111" stroke-width="1.3"/>
<circle cx="76.10" cy="682.97" r="3.45" fill="#e01010" stroke="#111" stroke-width="1.3"/>
<circle cx="84.40" cy="691.24" r="3.45" fill="#e01010" stroke="#111" stroke-width="1.3"/>
<circle cx="92.70" cy="699.99" r="3.45" fill="#e01010" stroke="#111" stroke-width="1.3"/>
<circle cx="117.60" cy="709.53" r="3.45" fill="#e01010" stroke="#111" stroke-width="1.3"/>
<circle cx="142.50" cy="716.21" r="3.45" fill="#e01010" stroke="#111" stroke-width="1.3"/>
<circle cx="167.40" cy="717.00" r="3.45" fill="#e01010" stroke="#111" stroke-width="1.3"/>
<g stroke="#000" stroke-width="1.6" fill="none"><path d="M204.25 638.00V718.30" /><path d="M200.85 717.50H204.25" /><path d="M200.85 691.00H204.25" /><path d="M200.85 664.50H204.25" /><path d="M200.85 638.00H204.25" /><path d="M212.45 727.00H337.80" /><path d="M213.25 727.00V730.00" /><path d="M254.50 727.00V730.00" /><path d="M295.75 727.00V730.00" /><path d="M337.00 727.00V730.00" /></g>
<g class="tk"><text x="200.65" y="720.60" text-anchor="end">0</text><text x="200.65" y="694.10" text-anchor="end">0.5</text><text x="200.65" y="667.60" text-anchor="end">1.0</text><text x="200.65" y="641.10" text-anchor="end">1.5</text><text x="213.25" y="738.20" text-anchor="middle">0</text><text x="254.50" y="738.20" text-anchor="middle">5</text><text x="295.75" y="738.20" text-anchor="middle">10</text><text x="337.00" y="738.20" text-anchor="middle">15</text></g>
<text class="ti" x="288.75" y="665.10">TNF</text>
<text class="tg" transform="translate(316.26 665.10) scale(1.4 1)">&#945;</text>
<path d="M213.25 717.50 L221.50 646.75 L229.75 656.76 L238.00 709.55 L246.25 706.37 L271.00 714.85 L295.75 716.97 L320.50 716.97" fill="none" stroke="#5a5ae8" stroke-width="2.2" stroke-linejoin="round"/>
<path d="M213.25 717.50 L221.50 662.91 L229.75 692.59 L238.00 702.13 L246.25 709.55 L271.00 714.85 L295.75 716.97 L320.50 716.97" fill="none" stroke="#88c860" stroke-width="2.2" stroke-linejoin="round"/>
<path d="M213.25 717.50 L221.50 683.26 L229.75 698.42 L238.00 713.00 L246.25 713.79 L271.00 715.91 L295.75 716.97 L320.50 716.97" fill="none" stroke="#c8141e" stroke-width="2.4" stroke-linejoin="round"/>
<rect x="209.70" y="713.95" width="7.10" height="7.10" fill="#6262f2" stroke="#111" stroke-width="1.3"/>
<rect x="217.95" y="643.19" width="7.10" height="7.10" fill="#6262f2" stroke="#111" stroke-width="1.3"/>
<rect x="226.20" y="653.21" width="7.10" height="7.10" fill="#6262f2" stroke="#111" stroke-width="1.3"/>
<rect x="234.45" y="706.00" width="7.10" height="7.10" fill="#6262f2" stroke="#111" stroke-width="1.3"/>
<rect x="242.70" y="702.82" width="7.10" height="7.10" fill="#6262f2" stroke="#111" stroke-width="1.3"/>
<rect x="267.45" y="711.30" width="7.10" height="7.10" fill="#6262f2" stroke="#111" stroke-width="1.3"/>
<rect x="292.20" y="713.42" width="7.10" height="7.10" fill="#6262f2" stroke="#111" stroke-width="1.3"/>
<rect x="316.95" y="713.42" width="7.10" height="7.10" fill="#6262f2" stroke="#111" stroke-width="1.3"/>
<path d="M209.99 714.15L216.51 714.15L213.25 720.20Z" fill="#6cbf42" stroke="#111" stroke-width="1.7" stroke-linejoin="miter"/>
<path d="M218.24 659.56L224.76 659.56L221.50 665.61Z" fill="#6cbf42" stroke="#111" stroke-width="1.7" stroke-linejoin="miter"/>
<path d="M226.49 689.24L233.01 689.24L229.75 695.29Z" fill="#6cbf42" stroke="#111" stroke-width="1.7" stroke-linejoin="miter"/>
<path d="M234.74 698.78L241.26 698.78L238.00 704.83Z" fill="#6cbf42" stroke="#111" stroke-width="1.7" stroke-linejoin="miter"/>
<path d="M242.99 706.20L249.51 706.20L246.25 712.25Z" fill="#6cbf42" stroke="#111" stroke-width="1.7" stroke-linejoin="miter"/>
<path d="M267.74 711.50L274.26 711.50L271.00 717.55Z" fill="#6cbf42" stroke="#111" stroke-width="1.7" stroke-linejoin="miter"/>
<path d="M292.49 713.62L299.01 713.62L295.75 719.67Z" fill="#6cbf42" stroke="#111" stroke-width="1.7" stroke-linejoin="miter"/>
<path d="M317.24 713.62L323.76 713.62L320.50 719.67Z" fill="#6cbf42" stroke="#111" stroke-width="1.7" stroke-linejoin="miter"/>
<circle cx="213.25" cy="717.50" r="3.45" fill="#e01010" stroke="#111" stroke-width="1.3"/>
<circle cx="221.50" cy="683.26" r="3.45" fill="#e01010" stroke="#111" stroke-width="1.3"/>
<circle cx="229.75" cy="698.42" r="3.45" fill="#e01010" stroke="#111" stroke-width="1.3"/>
<circle cx="238.00" cy="713.00" r="3.45" fill="#e01010" stroke="#111" stroke-width="1.3"/>
<circle cx="246.25" cy="713.79" r="3.45" fill="#e01010" stroke="#111" stroke-width="1.3"/>
<circle cx="271.00" cy="715.91" r="3.45" fill="#e01010" stroke="#111" stroke-width="1.3"/>
<circle cx="295.75" cy="716.97" r="3.45" fill="#e01010" stroke="#111" stroke-width="1.3"/>
<circle cx="320.50" cy="716.97" r="3.45" fill="#e01010" stroke="#111" stroke-width="1.3"/>
<g stroke="#000" stroke-width="1.6" fill="none"><path d="M354.25 638.00V718.30" /><path d="M350.85 717.50H354.25" /><path d="M350.85 697.62H354.25" /><path d="M350.85 677.75H354.25" /><path d="M350.85 657.88H354.25" /><path d="M350.85 638.00H354.25" /><path d="M363.60 727.50H489.55" /><path d="M364.40 727.50V730.50" /><path d="M405.85 727.50V730.50" /><path d="M447.30 727.50V730.50" /><path d="M488.75 727.50V730.50" /></g>
<g class="tk"><text x="350.65" y="720.60" text-anchor="end">0</text><text x="350.65" y="700.73" text-anchor="end">10</text><text x="350.65" y="680.85" text-anchor="end">20</text><text x="350.65" y="660.98" text-anchor="end">30</text><text x="350.65" y="641.10" text-anchor="end">40</text><text x="364.40" y="738.70" text-anchor="middle">0</text><text x="405.85" y="738.70" text-anchor="middle">5</text><text x="447.30" y="738.70" text-anchor="middle">10</text><text x="488.75" y="738.70" text-anchor="middle">15</text></g>
<text class="ti" x="435.80" y="660.80">G-CSF</text>
<path d="M364.40 716.51 L372.69 715.51 L380.98 713.72 L389.27 700.61 L397.56 689.48 L422.43 701.20 L447.30 703.79 L472.17 711.34" fill="none" stroke="#5a5ae8" stroke-width="2.2" stroke-linejoin="round"/>
<path d="M364.40 715.51 L372.69 714.52 L380.98 712.53 L389.27 692.46 L397.56 693.85 L422.43 685.50 L447.30 706.17 L472.17 714.92" fill="none" stroke="#88c860" stroke-width="2.2" stroke-linejoin="round"/>
<path d="M364.40 713.72 L372.69 715.51 L380.98 712.53 L389.27 675.56 L422.43 660.66 L447.30 710.54 L472.17 711.54" fill="none" stroke="#c8141e" stroke-width="2.4" stroke-linejoin="round"/>
<rect x="360.85" y="712.96" width="7.10" height="7.10" fill="#6262f2" stroke="#111" stroke-width="1.3"/>
<rect x="369.14" y="711.96" width="7.10" height="7.10" fill="#6262f2" stroke="#111" stroke-width="1.3"/>
<rect x="377.43" y="710.17" width="7.10" height="7.10" fill="#6262f2" stroke="#111" stroke-width="1.3"/>
<rect x="385.72" y="697.06" width="7.10" height="7.10" fill="#6262f2" stroke="#111" stroke-width="1.3"/>
<rect x="394.01" y="685.93" width="7.10" height="7.10" fill="#6262f2" stroke="#111" stroke-width="1.3"/>
<rect x="418.88" y="697.65" width="7.10" height="7.10" fill="#6262f2" stroke="#111" stroke-width="1.3"/>
<rect x="443.75" y="700.24" width="7.10" height="7.10" fill="#6262f2" stroke="#111" stroke-width="1.3"/>
<rect x="468.62" y="707.79" width="7.10" height="7.10" fill="#6262f2" stroke="#111" stroke-width="1.3"/>
<path d="M361.14 712.16L367.66 712.16L364.40 718.21Z" fill="#6cbf42" stroke="#111" stroke-width="1.7" stroke-linejoin="miter"/>
<path d="M369.43 711.17L375.95 711.17L372.69 717.22Z" fill="#6cbf42" stroke="#111" stroke-width="1.7" stroke-linejoin="miter"/>
<path d="M377.72 709.18L384.24 709.18L380.98 715.23Z" fill="#6cbf42" stroke="#111" stroke-width="1.7" stroke-linejoin="miter"/>
<path d="M386.01 689.11L392.53 689.11L389.27 695.16Z" fill="#6cbf42" stroke="#111" stroke-width="1.7" stroke-linejoin="miter"/>
<path d="M394.30 690.50L400.82 690.50L397.56 696.55Z" fill="#6cbf42" stroke="#111" stroke-width="1.7" stroke-linejoin="miter"/>
<path d="M419.17 682.15L425.69 682.15L422.43 688.20Z" fill="#6cbf42" stroke="#111" stroke-width="1.7" stroke-linejoin="miter"/>
<path d="M444.04 702.82L450.56 702.82L447.30 708.87Z" fill="#6cbf42" stroke="#111" stroke-width="1.7" stroke-linejoin="miter"/>
<path d="M468.91 711.57L475.43 711.57L472.17 717.62Z" fill="#6cbf42" stroke="#111" stroke-width="1.7" stroke-linejoin="miter"/>
<circle cx="364.40" cy="713.72" r="3.45" fill="#e01010" stroke="#111" stroke-width="1.3"/>
<circle cx="372.69" cy="715.51" r="3.45" fill="#e01010" stroke="#111" stroke-width="1.3"/>
<circle cx="380.98" cy="712.53" r="3.45" fill="#e01010" stroke="#111" stroke-width="1.3"/>
<circle cx="389.27" cy="675.56" r="3.45" fill="#e01010" stroke="#111" stroke-width="1.3"/>
<circle cx="422.43" cy="660.66" r="3.45" fill="#e01010" stroke="#111" stroke-width="1.3"/>
<circle cx="447.30" cy="710.54" r="3.45" fill="#e01010" stroke="#111" stroke-width="1.3"/>
<circle cx="472.17" cy="711.54" r="3.45" fill="#e01010" stroke="#111" stroke-width="1.3"/>
<g stroke="#000" stroke-width="1.6" fill="none"><path d="M50.00 742.00V822.55" /><path d="M46.60 821.75H50.00" /><path d="M46.60 801.81H50.00" /><path d="M46.60 781.88H50.00" /><path d="M46.60 761.94H50.00" /><path d="M46.60 742.00H50.00" /><path d="M58.80 830.60H185.00" /><path d="M59.60 830.60V833.60" /><path d="M90.75 830.60V833.60" /><path d="M121.90 830.60V833.60" /><path d="M153.05 830.60V833.60" /><path d="M184.20 830.60V833.60" /></g>
<g class="tk"><text x="46.40" y="824.85" text-anchor="end">0</text><text x="46.40" y="804.91" text-anchor="end">10</text><text x="46.40" y="784.98" text-anchor="end">20</text><text x="46.40" y="765.04" text-anchor="end">30</text><text x="46.40" y="745.10" text-anchor="end">40</text><text x="59.60" y="841.80" text-anchor="middle">0</text><text x="90.75" y="841.80" text-anchor="middle">5</text><text x="121.90" y="841.80" text-anchor="middle">10</text><text x="153.05" y="841.80" text-anchor="middle">15</text><text x="184.20" y="841.80" text-anchor="middle">20</text></g>
<text class="ti" x="141.25" y="768.45">CCL2</text>
<path d="M59.60 821.75 L65.83 807.99 L72.06 758.75 L78.29 756.16 L84.52 756.95 L103.21 812.78 L121.90 817.96 L140.59 820.75 L171.74 821.15" fill="none" stroke="#5a5ae8" stroke-width="2.2" stroke-linejoin="round"/>
<path d="M59.60 821.75 L65.83 802.41 L72.06 788.65 L78.29 761.34 L84.52 786.26 L103.21 808.79 L121.90 819.76 L140.59 819.76 L171.74 821.15" fill="none" stroke="#88c860" stroke-width="2.2" stroke-linejoin="round"/>
<path d="M59.60 821.75 L65.83 814.17 L72.06 783.07 L78.29 771.11 L84.52 761.94 L103.21 816.17 L121.90 815.57 L140.59 818.76 L171.74 821.15" fill="none" stroke="#c8141e" stroke-width="2.4" stroke-linejoin="round"/>
<rect x="56.05" y="818.20" width="7.10" height="7.10" fill="#6262f2" stroke="#111" stroke-width="1.3"/>
<rect x="62.28" y="804.44" width="7.10" height="7.10" fill="#6262f2" stroke="#111" stroke-width="1.3"/>
<rect x="68.51" y="755.20" width="7.10" height="7.10" fill="#6262f2" stroke="#111" stroke-width="1.3"/>
<rect x="74.74" y="752.61" width="7.10" height="7.10" fill="#6262f2" stroke="#111" stroke-width="1.3"/>
<rect x="80.97" y="753.40" width="7.10" height="7.10" fill="#6262f2" stroke="#111" stroke-width="1.3"/>
<rect x="99.66" y="809.23" width="7.10" height="7.10" fill="#6262f2" stroke="#111" stroke-width="1.3"/>
<rect x="118.35" y="814.41" width="7.10" height="7.10" fill="#6262f2" stroke="#111" stroke-width="1.3"/>
<rect x="137.04" y="817.20" width="7.10" height="7.10" fill="#6262f2" stroke="#111" stroke-width="1.3"/>
<rect x="168.19" y="817.60" width="7.10" height="7.10" fill="#6262f2" stroke="#111" stroke-width="1.3"/>
<path d="M56.34 818.40L62.86 818.40L59.60 824.45Z" fill="#6cbf42" stroke="#111" stroke-width="1.7" stroke-linejoin="miter"/>
<path d="M62.57 799.06L69.09 799.06L65.83 805.11Z" fill="#6cbf42" stroke="#111" stroke-width="1.7" stroke-linejoin="miter"/>
<path d="M68.80 785.30L75.32 785.30L72.06 791.35Z" fill="#6cbf42" stroke="#111" stroke-width="1.7" stroke-linejoin="miter"/>
<path d="M75.03 757.99L81.55 757.99L78.29 764.04Z" fill="#6cbf42" stroke="#111" stroke-width="1.7" stroke-linejoin="miter"/>
<path d="M81.26 782.91L87.78 782.91L84.52 788.96Z" fill="#6cbf42" stroke="#111" stroke-width="1.7" stroke-linejoin="miter"/>
<path d="M99.95 805.44L106.47 805.44L103.21 811.49Z" fill="#6cbf42" stroke="#111" stroke-width="1.7" stroke-linejoin="miter"/>
<path d="M118.64 816.41L125.16 816.41L121.90 822.46Z" fill="#6cbf42" stroke="#111" stroke-width="1.7" stroke-linejoin="miter"/>
<path d="M137.33 816.41L143.85 816.41L140.59 822.46Z" fill="#6cbf42" stroke="#111" stroke-width="1.7" stroke-linejoin="miter"/>
<path d="M168.48 817.80L175.00 817.80L171.74 823.85Z" fill="#6cbf42" stroke="#111" stroke-width="1.7" stroke-linejoin="miter"/>
<circle cx="59.60" cy="821.75" r="3.45" fill="#e01010" stroke="#111" stroke-width="1.3"/>
<circle cx="65.83" cy="814.17" r="3.45" fill="#e01010" stroke="#111" stroke-width="1.3"/>
<circle cx="72.06" cy="783.07" r="3.45" fill="#e01010" stroke="#111" stroke-width="1.3"/>
<circle cx="78.29" cy="771.11" r="3.45" fill="#e01010" stroke="#111" stroke-width="1.3"/>
<circle cx="84.52" cy="761.94" r="3.45" fill="#e01010" stroke="#111" stroke-width="1.3"/>
<circle cx="103.21" cy="816.17" r="3.45" fill="#e01010" stroke="#111" stroke-width="1.3"/>
<circle cx="121.90" cy="815.57" r="3.45" fill="#e01010" stroke="#111" stroke-width="1.3"/>
<circle cx="140.59" cy="818.76" r="3.45" fill="#e01010" stroke="#111" stroke-width="1.3"/>
<circle cx="171.74" cy="821.15" r="3.45" fill="#e01010" stroke="#111" stroke-width="1.3"/>
<g stroke="#000" stroke-width="1.6" fill="none"><path d="M203.75 739.50V820.05" /><path d="M200.35 819.25H203.75" /><path d="M200.35 799.31H203.75" /><path d="M200.35 779.38H203.75" /><path d="M200.35 759.44H203.75" /><path d="M200.35 739.50H203.75" /><path d="M211.70 830.75H338.30" /><path d="M212.50 830.75V833.75" /><path d="M243.75 830.75V833.75" /><path d="M275.00 830.75V833.75" /><path d="M306.25 830.75V833.75" /><path d="M337.50 830.75V833.75" /></g>
<g class="tk"><text x="200.15" y="822.35" text-anchor="end">0</text><text x="200.15" y="802.41" text-anchor="end">1</text><text x="200.15" y="782.48" text-anchor="end">2</text><text x="200.15" y="762.54" text-anchor="end">3</text><text x="200.15" y="742.60" text-anchor="end">4</text><text x="212.50" y="841.95" text-anchor="middle">0</text><text x="243.75" y="841.95" text-anchor="middle">5</text><text x="275.00" y="841.95" text-anchor="middle">10</text><text x="306.25" y="841.95" text-anchor="middle">15</text><text x="337.50" y="841.95" text-anchor="middle">20</text></g>
<text class="ti" x="288.00" y="768.45">CCL3</text>
<path d="M212.50 813.07 L218.75 781.37 L225.00 755.45 L231.25 779.38 L237.50 787.95 L256.25 812.27 L275.00 814.27 L293.75 814.27 L325.00 815.26" fill="none" stroke="#5a5ae8" stroke-width="2.2" stroke-linejoin="round"/>
<path d="M212.50 819.25 L218.75 782.96 L225.00 777.58 L231.25 783.36 L237.50 795.33 L256.25 812.27 L275.00 815.26 L293.75 815.26 L325.00 815.26" fill="none" stroke="#88c860" stroke-width="2.2" stroke-linejoin="round"/>
<path d="M212.50 817.06 L218.75 790.54 L225.00 783.76 L231.25 793.73 L237.50 802.10 L256.25 813.67 L275.00 814.27 L293.75 817.26 L325.00 814.47" fill="none" stroke="#c8141e" stroke-width="2.4" stroke-linejoin="round"/>
<rect x="208.95" y="809.52" width="7.10" height="7.10" fill="#6262f2" stroke="#111" stroke-width="1.3"/>
<rect x="215.20" y="777.82" width="7.10" height="7.10" fill="#6262f2" stroke="#111" stroke-width="1.3"/>
<rect x="221.45" y="751.90" width="7.10" height="7.10" fill="#6262f2" stroke="#111" stroke-width="1.3"/>
<rect x="227.70" y="775.82" width="7.10" height="7.10" fill="#6262f2" stroke="#111" stroke-width="1.3"/>
<rect x="233.95" y="784.40" width="7.10" height="7.10" fill="#6262f2" stroke="#111" stroke-width="1.3"/>
<rect x="252.70" y="808.72" width="7.10" height="7.10" fill="#6262f2" stroke="#111" stroke-width="1.3"/>
<rect x="271.45" y="810.72" width="7.10" height="7.10" fill="#6262f2" stroke="#111" stroke-width="1.3"/>
<rect x="290.20" y="810.72" width="7.10" height="7.10" fill="#6262f2" stroke="#111" stroke-width="1.3"/>
<rect x="321.45" y="811.71" width="7.10" height="7.10" fill="#6262f2" stroke="#111" stroke-width="1.3"/>
<path d="M209.24 815.90L215.76 815.90L212.50 821.95Z" fill="#6cbf42" stroke="#111" stroke-width="1.7" stroke-linejoin="miter"/>
<path d="M215.49 779.61L222.01 779.61L218.75 785.66Z" fill="#6cbf42" stroke="#111" stroke-width="1.7" stroke-linejoin="miter"/>
<path d="M221.74 774.23L228.26 774.23L225.00 780.28Z" fill="#6cbf42" stroke="#111" stroke-width="1.7" stroke-linejoin="miter"/>
<path d="M227.99 780.01L234.51 780.01L231.25 786.06Z" fill="#6cbf42" stroke="#111" stroke-width="1.7" stroke-linejoin="miter"/>
<path d="M234.24 791.98L240.76 791.98L237.50 798.03Z" fill="#6cbf42" stroke="#111" stroke-width="1.7" stroke-linejoin="miter"/>
<path d="M252.99 808.92L259.51 808.92L256.25 814.97Z" fill="#6cbf42" stroke="#111" stroke-width="1.7" stroke-linejoin="miter"/>
<path d="M271.74 811.91L278.26 811.91L275.00 817.96Z" fill="#6cbf42" stroke="#111" stroke-width="1.7" stroke-linejoin="miter"/>
<path d="M290.49 811.91L297.01 811.91L293.75 817.96Z" fill="#6cbf42" stroke="#111" stroke-width="1.7" stroke-linejoin="miter"/>
<path d="M321.74 811.91L328.26 811.91L325.00 817.96Z" fill="#6cbf42" stroke="#111" stroke-width="1.7" stroke-linejoin="miter"/>
<circle cx="212.50" cy="817.06" r="3.45" fill="#e01010" stroke="#111" stroke-width="1.3"/>
<circle cx="218.75" cy="790.54" r="3.45" fill="#e01010" stroke="#111" stroke-width="1.3"/>
<circle cx="225.00" cy="783.76" r="3.45" fill="#e01010" stroke="#111" stroke-width="1.3"/>
<circle cx="231.25" cy="793.73" r="3.45" fill="#e01010" stroke="#111" stroke-width="1.3"/>
<circle cx="237.50" cy="802.10" r="3.45" fill="#e01010" stroke="#111" stroke-width="1.3"/>
<circle cx="256.25" cy="813.67" r="3.45" fill="#e01010" stroke="#111" stroke-width="1.3"/>
<circle cx="275.00" cy="814.27" r="3.45" fill="#e01010" stroke="#111" stroke-width="1.3"/>
<circle cx="293.75" cy="817.26" r="3.45" fill="#e01010" stroke="#111" stroke-width="1.3"/>
<circle cx="325.00" cy="814.47" r="3.45" fill="#e01010" stroke="#111" stroke-width="1.3"/>
<g stroke="#000" stroke-width="1.6" fill="none"><path d="M354.25 739.50V820.30" /><path d="M350.85 819.50H354.25" /><path d="M350.85 792.83H354.25" /><path d="M350.85 766.17H354.25" /><path d="M350.85 739.50H354.25" /><path d="M362.95 830.75H488.55" /><path d="M363.75 830.75V833.75" /><path d="M394.75 830.75V833.75" /><path d="M425.75 830.75V833.75" /><path d="M456.75 830.75V833.75" /><path d="M487.75 830.75V833.75" /></g>
<g class="tk"><text x="350.65" y="822.60" text-anchor="end">0</text><text x="350.65" y="795.93" text-anchor="end">5</text><text x="350.65" y="769.27" text-anchor="end">10</text><text x="350.65" y="742.60" text-anchor="end">15</text><text x="363.75" y="841.95" text-anchor="middle">0</text><text x="394.75" y="841.95" text-anchor="middle">5</text><text x="425.75" y="841.95" text-anchor="middle">10</text><text x="456.75" y="841.95" text-anchor="middle">15</text><text x="487.75" y="841.95" text-anchor="middle">20</text></g>
<text class="ti" x="437.00" y="768.45">CCL4</text>
<path d="M363.75 819.50 L369.95 746.97 L376.15 750.17 L382.35 760.51 L388.55 751.98 L407.15 806.17 L425.75 815.02 L444.35 817.90 L475.35 818.43" fill="none" stroke="#5a5ae8" stroke-width="2.2" stroke-linejoin="round"/>
<path d="M363.75 819.50 L369.95 753.90 L376.15 750.17 L382.35 779.50 L388.55 786.43 L407.15 807.77 L425.75 816.83 L444.35 817.90 L475.35 818.43" fill="none" stroke="#88c860" stroke-width="2.2" stroke-linejoin="round"/>
<path d="M363.75 819.50 L369.95 770.01 L376.15 749.63 L382.35 778.75 L388.55 783.77 L407.15 812.57 L425.75 816.99 L444.35 817.90 L475.35 818.43" fill="none" stroke="#c8141e" stroke-width="2.4" stroke-linejoin="round"/>
<rect x="360.20" y="815.95" width="7.10" height="7.10" fill="#6262f2" stroke="#111" stroke-width="1.3"/>
<rect x="366.40" y="743.42" width="7.10" height="7.10" fill="#6262f2" stroke="#111" stroke-width="1.3"/>
<rect x="372.60" y="746.62" width="7.10" height="7.10" fill="#6262f2" stroke="#111" stroke-width="1.3"/>
<rect x="378.80" y="756.96" width="7.10" height="7.10" fill="#6262f2" stroke="#111" stroke-width="1.3"/>
<rect x="385.00" y="748.43" width="7.10" height="7.10" fill="#6262f2" stroke="#111" stroke-width="1.3"/>
<rect x="403.60" y="802.62" width="7.10" height="7.10" fill="#6262f2" stroke="#111" stroke-width="1.3"/>
<rect x="422.20" y="811.47" width="7.10" height="7.10" fill="#6262f2" stroke="#111" stroke-width="1.3"/>
<rect x="440.80" y="814.35" width="7.10" height="7.10" fill="#6262f2" stroke="#111" stroke-width="1.3"/>
<rect x="471.80" y="814.88" width="7.10" height="7.10" fill="#6262f2" stroke="#111" stroke-width="1.3"/>
<path d="M360.49 816.15L367.01 816.15L363.75 822.20Z" fill="#6cbf42" stroke="#111" stroke-width="1.7" stroke-linejoin="miter"/>
<path d="M366.69 750.55L373.21 750.55L369.95 756.60Z" fill="#6cbf42" stroke="#111" stroke-width="1.7" stroke-linejoin="miter"/>
<path d="M372.89 746.82L379.41 746.82L376.15 752.87Z" fill="#6cbf42" stroke="#111" stroke-width="1.7" stroke-linejoin="miter"/>
<path d="M379.09 776.15L385.61 776.15L382.35 782.20Z" fill="#6cbf42" stroke="#111" stroke-width="1.7" stroke-linejoin="miter"/>
<path d="M385.29 783.08L391.81 783.08L388.55 789.13Z" fill="#6cbf42" stroke="#111" stroke-width="1.7" stroke-linejoin="miter"/>
<path d="M403.89 804.42L410.41 804.42L407.15 810.47Z" fill="#6cbf42" stroke="#111" stroke-width="1.7" stroke-linejoin="miter"/>
<path d="M422.49 813.48L429.01 813.48L425.75 819.53Z" fill="#6cbf42" stroke="#111" stroke-width="1.7" stroke-linejoin="miter"/>
<path d="M441.09 814.55L447.61 814.55L444.35 820.60Z" fill="#6cbf42" stroke="#111" stroke-width="1.7" stroke-linejoin="miter"/>
<path d="M472.09 815.08L478.61 815.08L475.35 821.13Z" fill="#6cbf42" stroke="#111" stroke-width="1.7" stroke-linejoin="miter"/>
<circle cx="363.75" cy="819.50" r="3.45" fill="#e01010" stroke="#111" stroke-width="1.3"/>
<circle cx="369.95" cy="770.01" r="3.45" fill="#e01010" stroke="#111" stroke-width="1.3"/>
<circle cx="376.15" cy="749.63" r="3.45" fill="#e01010" stroke="#111" stroke-width="1.3"/>
<circle cx="382.35" cy="778.75" r="3.45" fill="#e01010" stroke="#111" stroke-width="1.3"/>
<circle cx="388.55" cy="783.77" r="3.45" fill="#e01010" stroke="#111" stroke-width="1.3"/>
<circle cx="407.15" cy="812.57" r="3.45" fill="#e01010" stroke="#111" stroke-width="1.3"/>
<circle cx="425.75" cy="816.99" r="3.45" fill="#e01010" stroke="#111" stroke-width="1.3"/>
<circle cx="444.35" cy="817.90" r="3.45" fill="#e01010" stroke="#111" stroke-width="1.3"/>
<circle cx="475.35" cy="818.43" r="3.45" fill="#e01010" stroke="#111" stroke-width="1.3"/>
<g stroke="#000" stroke-width="1.6" fill="none"><path d="M49.50 850.50V931.30" /><path d="M46.10 930.50H49.50" /><path d="M46.10 914.50H49.50" /><path d="M46.10 898.50H49.50" /><path d="M46.10 882.50H49.50" /><path d="M46.10 866.50H49.50" /><path d="M46.10 850.50H49.50" /><path d="M59.30 939.50H184.90" /><path d="M60.10 939.50V942.50" /><path d="M91.10 939.50V942.50" /><path d="M122.10 939.50V942.50" /><path d="M153.10 939.50V942.50" /><path d="M184.10 939.50V942.50" /></g>
<g class="tk"><text x="45.90" y="933.60" text-anchor="end">0</text><text x="45.90" y="917.60" text-anchor="end">5</text><text x="45.90" y="901.60" text-anchor="end">10</text><text x="45.90" y="885.60" text-anchor="end">15</text><text x="45.90" y="869.60" text-anchor="end">20</text><text x="45.90" y="853.60" text-anchor="end">25</text><text x="60.10" y="950.70" text-anchor="middle">0</text><text x="91.10" y="950.70" text-anchor="middle">5</text><text x="122.10" y="950.70" text-anchor="middle">10</text><text x="153.10" y="950.70" text-anchor="middle">15</text><text x="184.10" y="950.70" text-anchor="middle">20</text></g>
<text class="ti" x="140.00" y="872.20">CCL5</text>
<path d="M60.10 929.86 L66.30 929.54 L72.50 926.66 L78.70 902.98 L103.50 890.82 L122.10 923.78 L140.70 927.49 L171.70 929.22" fill="none" stroke="#5a5ae8" stroke-width="2.2" stroke-linejoin="round"/>
<path d="M60.10 930.50 L66.30 929.54 L72.50 927.30 L78.70 864.90 L84.90 870.02 L103.50 879.62 L122.10 924.10 L140.70 924.10 L171.70 929.22" fill="none" stroke="#88c860" stroke-width="2.2" stroke-linejoin="round"/>
<path d="M60.10 929.86 L66.30 929.54 L72.50 928.74 L78.70 920.58 L84.90 900.10 L103.50 923.14 L122.10 924.42 L140.70 925.51 L171.70 929.22" fill="none" stroke="#c8141e" stroke-width="2.4" stroke-linejoin="round"/>
<rect x="56.55" y="926.31" width="7.10" height="7.10" fill="#6262f2" stroke="#111" stroke-width="1.3"/>
<rect x="62.75" y="925.99" width="7.10" height="7.10" fill="#6262f2" stroke="#111" stroke-width="1.3"/>
<rect x="68.95" y="923.11" width="7.10" height="7.10" fill="#6262f2" stroke="#111" stroke-width="1.3"/>
<rect x="75.15" y="899.43" width="7.10" height="7.10" fill="#6262f2" stroke="#111" stroke-width="1.3"/>
<rect x="99.95" y="887.27" width="7.10" height="7.10" fill="#6262f2" stroke="#111" stroke-width="1.3"/>
<rect x="118.55" y="920.23" width="7.10" height="7.10" fill="#6262f2" stroke="#111" stroke-width="1.3"/>
<rect x="137.15" y="923.94" width="7.10" height="7.10" fill="#6262f2" stroke="#111" stroke-width="1.3"/>
<rect x="168.15" y="925.67" width="7.10" height="7.10" fill="#6262f2" stroke="#111" stroke-width="1.3"/>
<path d="M56.84 927.15L63.36 927.15L60.10 933.20Z" fill="#6cbf42" stroke="#111" stroke-width="1.7" stroke-linejoin="miter"/>
<path d="M63.04 926.19L69.56 926.19L66.30 932.24Z" fill="#6cbf42" stroke="#111" stroke-width="1.7" stroke-linejoin="miter"/>
<path d="M69.24 923.95L75.76 923.95L72.50 930.00Z" fill="#6cbf42" stroke="#111" stroke-width="1.7" stroke-linejoin="miter"/>
<path d="M75.44 861.55L81.96 861.55L78.70 867.60Z" fill="#6cbf42" stroke="#111" stroke-width="1.7" stroke-linejoin="miter"/>
<path d="M81.64 866.67L88.16 866.67L84.90 872.72Z" fill="#6cbf42" stroke="#111" stroke-width="1.7" stroke-linejoin="miter"/>
<path d="M100.24 876.27L106.76 876.27L103.50 882.32Z" fill="#6cbf42" stroke="#111" stroke-width="1.7" stroke-linejoin="miter"/>
<path d="M118.84 920.75L125.36 920.75L122.10 926.80Z" fill="#6cbf42" stroke="#111" stroke-width="1.7" stroke-linejoin="miter"/>
<path d="M137.44 920.75L143.96 920.75L140.70 926.80Z" fill="#6cbf42" stroke="#111" stroke-width="1.7" stroke-linejoin="miter"/>
<path d="M168.44 925.87L174.96 925.87L171.70 931.92Z" fill="#6cbf42" stroke="#111" stroke-width="1.7" stroke-linejoin="miter"/>
<circle cx="60.10" cy="929.86" r="3.45" fill="#e01010" stroke="#111" stroke-width="1.3"/>
<circle cx="66.30" cy="929.54" r="3.45" fill="#e01010" stroke="#111" stroke-width="1.3"/>
<circle cx="72.50" cy="928.74" r="3.45" fill="#e01010" stroke="#111" stroke-width="1.3"/>
<circle cx="78.70" cy="920.58" r="3.45" fill="#e01010" stroke="#111" stroke-width="1.3"/>
<circle cx="84.90" cy="900.10" r="3.45" fill="#e01010" stroke="#111" stroke-width="1.3"/>
<circle cx="103.50" cy="923.14" r="3.45" fill="#e01010" stroke="#111" stroke-width="1.3"/>
<circle cx="122.10" cy="924.42" r="3.45" fill="#e01010" stroke="#111" stroke-width="1.3"/>
<circle cx="140.70" cy="925.51" r="3.45" fill="#e01010" stroke="#111" stroke-width="1.3"/>
<circle cx="171.70" cy="929.22" r="3.45" fill="#e01010" stroke="#111" stroke-width="1.3"/>
<g stroke="#000" stroke-width="1.6" fill="none"><path d="M203.00 852.00V932.80" /><path d="M199.60 932.00H203.00" /><path d="M199.60 905.33H203.00" /><path d="M199.60 878.67H203.00" /><path d="M199.60 852.00H203.00" /><path d="M210.45 941.00H337.05" /><path d="M211.25 941.00V944.00" /><path d="M242.50 941.00V944.00" /><path d="M273.75 941.00V944.00" /><path d="M305.00 941.00V944.00" /><path d="M336.25 941.00V944.00" /></g>
<g class="tk"><text x="199.40" y="935.10" text-anchor="end">0</text><text x="199.40" y="908.43" text-anchor="end">10</text><text x="199.40" y="881.77" text-anchor="end">20</text><text x="199.40" y="855.10" text-anchor="end">30</text><text x="211.25" y="952.20" text-anchor="middle">0</text><text x="242.50" y="952.20" text-anchor="middle">5</text><text x="273.75" y="952.20" text-anchor="middle">10</text><text x="305.00" y="952.20" text-anchor="middle">15</text><text x="336.25" y="952.20" text-anchor="middle">20</text></g>
<text class="ti" x="288.00" y="872.20">CXCL9</text>
<path d="M211.25 932.00 L217.50 931.20 L223.75 928.00 L230.00 888.80 L236.25 868.80 L255.00 882.93 L273.75 893.87 L292.50 895.47 L323.75 932.00" fill="none" stroke="#5a5ae8" stroke-width="2.2" stroke-linejoin="round"/>
<path d="M211.25 932.00 L217.50 931.20 L223.75 929.87 L230.00 877.60 L236.25 874.40 L255.00 873.07 L273.75 885.87 L292.50 902.00 L323.75 932.00" fill="none" stroke="#88c860" stroke-width="2.2" stroke-linejoin="round"/>
<path d="M211.25 932.00 L217.50 931.47 L223.75 931.20 L230.00 918.67 L236.25 897.60 L255.00 884.53 L273.75 898.00 L292.50 907.47 L323.75 932.00" fill="none" stroke="#c8141e" stroke-width="2.4" stroke-linejoin="round"/>
<rect x="207.70" y="928.45" width="7.10" height="7.10" fill="#6262f2" stroke="#111" stroke-width="1.3"/>
<rect x="213.95" y="927.65" width="7.10" height="7.10" fill="#6262f2" stroke="#111" stroke-width="1.3"/>
<rect x="220.20" y="924.45" width="7.10" height="7.10" fill="#6262f2" stroke="#111" stroke-width="1.3"/>
<rect x="226.45" y="885.25" width="7.10" height="7.10" fill="#6262f2" stroke="#111" stroke-width="1.3"/>
<rect x="232.70" y="865.25" width="7.10" height="7.10" fill="#6262f2" stroke="#111" stroke-width="1.3"/>
<rect x="251.45" y="879.38" width="7.10" height="7.10" fill="#6262f2" stroke="#111" stroke-width="1.3"/>
<rect x="270.20" y="890.32" width="7.10" height="7.10" fill="#6262f2" stroke="#111" stroke-width="1.3"/>
<rect x="288.95" y="891.92" width="7.10" height="7.10" fill="#6262f2" stroke="#111" stroke-width="1.3"/>
<rect x="320.20" y="928.45" width="7.10" height="7.10" fill="#6262f2" stroke="#111" stroke-width="1.3"/>
<path d="M207.99 928.65L214.51 928.65L211.25 934.70Z" fill="#6cbf42" stroke="#111" stroke-width="1.7" stroke-linejoin="miter"/>
<path d="M214.24 927.85L220.76 927.85L217.50 933.90Z" fill="#6cbf42" stroke="#111" stroke-width="1.7" stroke-linejoin="miter"/>
<path d="M220.49 926.52L227.01 926.52L223.75 932.57Z" fill="#6cbf42" stroke="#111" stroke-width="1.7" stroke-linejoin="miter"/>
<path d="M226.74 874.25L233.26 874.25L230.00 880.30Z" fill="#6cbf42" stroke="#111" stroke-width="1.7" stroke-linejoin="miter"/>
<path d="M232.99 871.05L239.51 871.05L236.25 877.10Z" fill="#6cbf42" stroke="#111" stroke-width="1.7" stroke-linejoin="miter"/>
<path d="M251.74 869.72L258.26 869.72L255.00 875.77Z" fill="#6cbf42" stroke="#111" stroke-width="1.7" stroke-linejoin="miter"/>
<path d="M270.49 882.52L277.01 882.52L273.75 888.57Z" fill="#6cbf42" stroke="#111" stroke-width="1.7" stroke-linejoin="miter"/>
<path d="M289.24 898.65L295.76 898.65L292.50 904.70Z" fill="#6cbf42" stroke="#111" stroke-width="1.7" stroke-linejoin="miter"/>
<path d="M320.49 928.65L327.01 928.65L323.75 934.70Z" fill="#6cbf42" stroke="#111" stroke-width="1.7" stroke-linejoin="miter"/>
<circle cx="211.25" cy="932.00" r="3.45" fill="#e01010" stroke="#111" stroke-width="1.3"/>
<circle cx="217.50" cy="931.47" r="3.45" fill="#e01010" stroke="#111" stroke-width="1.3"/>
<circle cx="223.75" cy="931.20" r="3.45" fill="#e01010" stroke="#111" stroke-width="1.3"/>
<circle cx="230.00" cy="918.67" r="3.45" fill="#e01010" stroke="#111" stroke-width="1.3"/>
<circle cx="236.25" cy="897.60" r="3.45" fill="#e01010" stroke="#111" stroke-width="1.3"/>
<circle cx="255.00" cy="884.53" r="3.45" fill="#e01010" stroke="#111" stroke-width="1.3"/>
<circle cx="273.75" cy="898.00" r="3.45" fill="#e01010" stroke="#111" stroke-width="1.3"/>
<circle cx="292.50" cy="907.47" r="3.45" fill="#e01010" stroke="#111" stroke-width="1.3"/>
<circle cx="323.75" cy="932.00" r="3.45" fill="#e01010" stroke="#111" stroke-width="1.3"/>
<g stroke="#000" stroke-width="1.6" fill="none"><path d="M353.00 851.25V931.30" /><path d="M349.60 930.50H353.00" /><path d="M349.60 910.69H353.00" /><path d="M349.60 890.88H353.00" /><path d="M349.60 871.06H353.00" /><path d="M349.60 851.25H353.00" /><path d="M361.20 940.00H488.80" /><path d="M362.00 940.00V943.00" /><path d="M393.50 940.00V943.00" /><path d="M425.00 940.00V943.00" /><path d="M456.50 940.00V943.00" /><path d="M488.00 940.00V943.00" /></g>
<g class="tk"><text x="349.40" y="933.60" text-anchor="end">0</text><text x="349.40" y="913.79" text-anchor="end">2.5</text><text x="349.40" y="893.98" text-anchor="end">5.0</text><text x="349.40" y="874.16" text-anchor="end">7.5</text><text x="349.40" y="854.35" text-anchor="end">10</text><text x="362.00" y="951.20" text-anchor="middle">0</text><text x="393.50" y="951.20" text-anchor="middle">5</text><text x="425.00" y="951.20" text-anchor="middle">10</text><text x="456.50" y="951.20" text-anchor="middle">15</text><text x="488.00" y="951.20" text-anchor="middle">20</text></g>
<text class="ti" x="435.50" y="871.70">CXCL10</text>
<path d="M362.00 928.91 L368.30 906.73 L374.60 895.47 L380.90 874.47 L387.20 862.50 L406.10 874.47 L425.00 896.98 L443.90 901.26 L475.40 922.97" fill="none" stroke="#5a5ae8" stroke-width="2.2" stroke-linejoin="round"/>
<path d="M362.00 928.91 L368.30 912.51 L374.60 904.98 L380.90 852.99 L387.20 875.50 L406.10 875.02 L425.00 904.51 L443.90 907.99 L475.40 925.75" fill="none" stroke="#88c860" stroke-width="2.2" stroke-linejoin="round"/>
<path d="M362.00 929.47 L368.30 905.54 L374.60 899.99 L380.90 890.48 L387.20 862.50 L406.10 888.74 L425.00 901.26 L443.90 901.26 L475.40 928.12" fill="none" stroke="#c8141e" stroke-width="2.4" stroke-linejoin="round"/>
<rect x="358.45" y="925.36" width="7.10" height="7.10" fill="#6262f2" stroke="#111" stroke-width="1.3"/>
<rect x="364.75" y="903.17" width="7.10" height="7.10" fill="#6262f2" stroke="#111" stroke-width="1.3"/>
<rect x="371.05" y="891.92" width="7.10" height="7.10" fill="#6262f2" stroke="#111" stroke-width="1.3"/>
<rect x="377.35" y="870.92" width="7.10" height="7.10" fill="#6262f2" stroke="#111" stroke-width="1.3"/>
<rect x="383.65" y="858.95" width="7.10" height="7.10" fill="#6262f2" stroke="#111" stroke-width="1.3"/>
<rect x="402.55" y="870.92" width="7.10" height="7.10" fill="#6262f2" stroke="#111" stroke-width="1.3"/>
<rect x="421.45" y="893.43" width="7.10" height="7.10" fill="#6262f2" stroke="#111" stroke-width="1.3"/>
<rect x="440.35" y="897.71" width="7.10" height="7.10" fill="#6262f2" stroke="#111" stroke-width="1.3"/>
<rect x="471.85" y="919.42" width="7.10" height="7.10" fill="#6262f2" stroke="#111" stroke-width="1.3"/>
<path d="M358.74 925.56L365.26 925.56L362.00 931.62Z" fill="#6cbf42" stroke="#111" stroke-width="1.7" stroke-linejoin="miter"/>
<path d="M365.04 909.16L371.56 909.16L368.30 915.21Z" fill="#6cbf42" stroke="#111" stroke-width="1.7" stroke-linejoin="miter"/>
<path d="M371.34 901.63L377.86 901.63L374.60 907.68Z" fill="#6cbf42" stroke="#111" stroke-width="1.7" stroke-linejoin="miter"/>
<path d="M377.64 849.64L384.16 849.64L380.90 855.69Z" fill="#6cbf42" stroke="#111" stroke-width="1.7" stroke-linejoin="miter"/>
<path d="M383.94 872.15L390.46 872.15L387.20 878.20Z" fill="#6cbf42" stroke="#111" stroke-width="1.7" stroke-linejoin="miter"/>
<path d="M402.84 871.67L409.36 871.67L406.10 877.73Z" fill="#6cbf42" stroke="#111" stroke-width="1.7" stroke-linejoin="miter"/>
<path d="M421.74 901.16L428.26 901.16L425.00 907.21Z" fill="#6cbf42" stroke="#111" stroke-width="1.7" stroke-linejoin="miter"/>
<path d="M440.64 904.64L447.16 904.64L443.90 910.69Z" fill="#6cbf42" stroke="#111" stroke-width="1.7" stroke-linejoin="miter"/>
<path d="M472.14 922.39L478.66 922.39L475.40 928.45Z" fill="#6cbf42" stroke="#111" stroke-width="1.7" stroke-linejoin="miter"/>
<circle cx="362.00" cy="929.47" r="3.45" fill="#e01010" stroke="#111" stroke-width="1.3"/>
<circle cx="368.30" cy="905.54" r="3.45" fill="#e01010" stroke="#111" stroke-width="1.3"/>
<circle cx="374.60" cy="899.99" r="3.45" fill="#e01010" stroke="#111" stroke-width="1.3"/>
<circle cx="380.90" cy="890.48" r="3.45" fill="#e01010" stroke="#111" stroke-width="1.3"/>
<circle cx="387.20" cy="862.50" r="3.45" fill="#e01010" stroke="#111" stroke-width="1.3"/>
<circle cx="406.10" cy="888.74" r="3.45" fill="#e01010" stroke="#111" stroke-width="1.3"/>
<circle cx="425.00" cy="901.26" r="3.45" fill="#e01010" stroke="#111" stroke-width="1.3"/>
<circle cx="443.90" cy="901.26" r="3.45" fill="#e01010" stroke="#111" stroke-width="1.3"/>
<circle cx="475.40" cy="928.12" r="3.45" fill="#e01010" stroke="#111" stroke-width="1.3"/>
</svg></body></html>
